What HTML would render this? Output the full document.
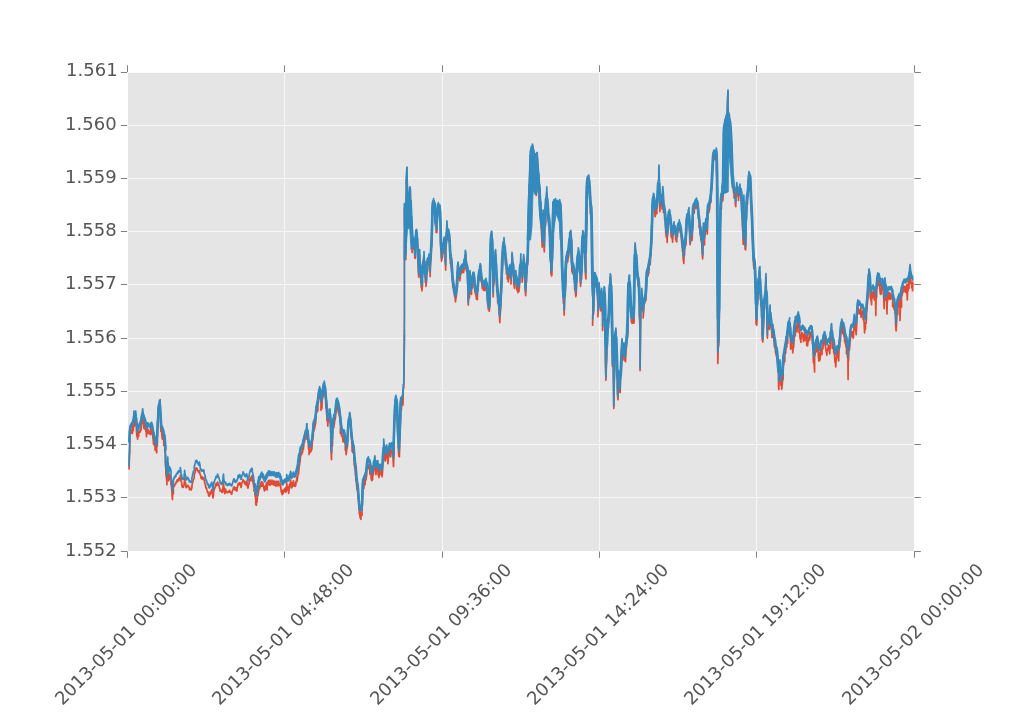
<!DOCTYPE html>
<html><head><meta charset="utf-8"><title>plot</title>
<style>html,body{margin:0;padding:0;background:#fff;overflow:hidden}body{width:1015px;height:715px;position:relative}</style></head>
<body>
<svg width="1015" height="715" viewBox="0 0 1015 715" style="position:absolute;left:0;top:0">
<rect x="0" y="0" width="1015" height="715" fill="#ffffff"/>
<rect x="128.0" y="72.8" width="786.0" height="478.2" fill="#e5e5e5"/>
<line x1="128.0" x2="914.0" y1="125.50" y2="125.50" stroke="#f7f7f7" stroke-width="1"/>
<line x1="128.0" x2="914.0" y1="178.50" y2="178.50" stroke="#f7f7f7" stroke-width="1"/>
<line x1="128.0" x2="914.0" y1="231.50" y2="231.50" stroke="#f7f7f7" stroke-width="1"/>
<line x1="128.0" x2="914.0" y1="284.50" y2="284.50" stroke="#f7f7f7" stroke-width="1"/>
<line x1="128.0" x2="914.0" y1="338.50" y2="338.50" stroke="#f7f7f7" stroke-width="1"/>
<line x1="128.0" x2="914.0" y1="391.50" y2="391.50" stroke="#f7f7f7" stroke-width="1"/>
<line x1="128.0" x2="914.0" y1="444.50" y2="444.50" stroke="#f7f7f7" stroke-width="1"/>
<line x1="128.0" x2="914.0" y1="497.50" y2="497.50" stroke="#f7f7f7" stroke-width="1"/>
<line x1="284.50" x2="284.50" y1="72.8" y2="551.0" stroke="#f7f7f7" stroke-width="1"/>
<line x1="442.50" x2="442.50" y1="72.8" y2="551.0" stroke="#f7f7f7" stroke-width="1"/>
<line x1="599.50" x2="599.50" y1="72.8" y2="551.0" stroke="#f7f7f7" stroke-width="1"/>
<line x1="756.50" x2="756.50" y1="72.8" y2="551.0" stroke="#f7f7f7" stroke-width="1"/>
<clipPath id="c"><rect x="128.0" y="72.8" width="786.0" height="478.2"/></clipPath>
<g clip-path="url(#c)" fill="none" stroke-linejoin="round" stroke-linecap="butt">
<path d="M129.1,469.4 L129.2,463.1 L129.8,451.8 L129.6,446.6 L130.1,432.7 L130.3,434.2 L130.8,433.2 L131.1,430.7 L131.2,430.4 L131.9,430.4 L132.5,424.7 L132.4,433.4 L133.3,424.9 L133.3,430.7 L133.6,422.9 L134.0,418.7 L134.0,415.8 L134.7,425.8 L134.8,423.7 L135.0,420.3 L135.7,414.8 L136.2,423.9 L136.3,421.6 L136.5,432.3 L136.7,432.7 L136.8,435.9 L137.5,437.7 L137.6,439.1 L138.1,432.4 L138.6,436.4 L138.9,432.1 L139.1,431.2 L139.7,430.9 L140.0,432.2 L140.6,429.5 L140.5,428.3 L141.0,428.2 L141.0,430.3 L141.9,421.1 L142.0,423.6 L142.5,414.7 L142.7,418.4 L143.0,418.2 L143.1,421.4 L143.5,420.1 L143.9,428.4 L144.2,419.5 L144.9,429.1 L144.9,422.2 L145.4,427.0 L145.8,431.2 L146.3,431.8 L146.3,433.5 L146.5,436.6 L147.1,428.4 L147.3,433.7 L147.3,427.7 L148.0,432.8 L148.5,430.2 L148.4,431.1 L149.3,433.1 L149.3,433.7 L149.7,431.6 L150.3,434.7 L150.7,428.1 L150.7,434.3 L151.5,428.6 L151.2,433.5 L151.9,428.1 L152.0,432.5 L152.5,433.8 L152.9,438.8 L153.0,435.3 L153.5,444.1 L154.0,437.6 L154.3,444.0 L154.8,446.7 L155.1,445.2 L155.0,449.8 L156.0,450.5 L156.1,450.8 L156.7,452.7 L156.7,442.7 L157.3,446.2 L157.5,437.4 L157.4,431.7 L158.1,419.5 L158.1,421.7 L158.3,409.8 L158.9,413.5 L158.9,410.3 L159.4,407.5 L160.1,407.0 L160.2,407.9 L160.1,409.8 L160.6,425.9 L160.8,428.3 L160.9,431.4 L161.6,431.6 L162.3,439.1 L162.3,430.3 L162.7,436.8 L162.7,435.4 L163.1,438.6 L163.6,437.1 L163.8,445.5 L164.8,440.5 L164.8,446.8 L164.8,450.6 L165.5,454.7 L165.4,460.6 L166.2,475.7" stroke="#e24a33" stroke-width="1.70"/>
<path d="M165.4,460.6 L166.2,475.7 L166.8,480.9 L166.9,484.8 L167.1,476.8 L167.5,472.3 L167.8,465.1 L167.9,469.0 L168.7,475.4 L168.7,480.8 L169.2,478.3 L169.2,479.6 L169.5,474.3 L170.0,476.9 L170.4,475.9 L171.1,479.6 L170.9,483.6 L171.5,487.1 L171.9,490.9 L172.1,495.6 L172.5,499.6 L172.5,495.3 L173.4,493.4 L173.3,488.3 L173.9,485.8 L174.5,486.1 L174.5,484.5 L174.6,485.5 L175.6,483.3 L175.9,483.8 L176.0,482.4 L176.2,482.0 L176.4,482.2 L177.2,480.0 L177.9,481.5 L177.8,479.5 L178.4,480.3 L178.8,479.4 L178.8,478.1 L179.4,479.9 L179.7,477.8 L180.2,479.5 L180.3,475.3 L180.9,478.3 L180.9,480.7 L181.6,482.4 L181.9,485.8 L182.3,487.1 L182.7,485.9 L183.2,487.4 L183.5,485.1 L183.7,486.1 L184.1,484.4 L184.5,480.4 L184.6,478.3 L185.0,481.2 L185.7,483.7 L185.8,486.9 L186.2,487.7 L186.2,485.5 L186.5,486.2 L187.3,485.5 L187.2,486.5 L187.9,485.3 L187.9,485.8 L188.3,486.9 L188.9,486.6 L189.3,488.0 L189.3,489.6 L189.8,487.9 L190.5,489.3 L190.6,489.3 L191.1,490.0 L191.3,489.6 L192.1,486.9 L191.7,486.8 L192.6,482.6 L192.7,481.0 L193.1,481.1 L193.3,479.2 L193.9,478.9 L194.3,477.3 L194.2,473.9 L194.5,474.2 L195.5,470.9 L195.5,469.6 L195.5,469.2 L196.1,467.9 L196.4,469.3 L196.9,468.1 L197.1,468.6 L197.3,470.1 L197.8,470.5 L198.3,471.4 L198.7,472.5 L198.6,472.2 L199.4,470.3 L200.0,473.6 L200.0,474.2 L200.3,475.2 L200.7,475.5 L201.1,478.4 L201.9,478.3 L202.1,477.1 L202.2,479.3 L202.4,477.1 L202.9,478.5 L203.8,478.0 L203.9,477.6 L204.1,480.2 L204.4,481.4 L205.4,484.9 L205.3,485.8 L205.5,485.4 L205.9,488.2 L206.4,487.4 L206.7,489.0 L206.8,489.7 L207.4,491.3 L207.4,492.3 L208.2,492.2 L208.6,495.8 L208.7,493.4 L208.9,494.6 L209.5,496.0 L209.5,493.4 L210.3,494.4 L210.3,491.9 L211.2,492.9 L211.4,490.5 L211.6,489.6 L212.1,492.4 L212.2,491.1 L212.7,495.8 L213.0,497.8 L213.5,495.0 L213.9,489.0 L214.0,490.1 L214.5,488.7 L214.5,488.9 L215.3,486.7 L215.8,486.1 L215.8,484.9 L216.2,483.3 L216.7,485.6 L216.7,483.6 L217.3,485.3 L217.6,482.0 L218.4,484.5 L218.6,484.8 L219.0,484.9 L219.6,488.6 L220.0,488.9 L220.0,490.9 L220.6,490.9 L220.5,489.6 L220.8,491.0 L221.4,490.8 L222.0,492.4 L222.1,491.4 L222.7,488.9 L222.9,491.9 L223.2,484.5 L223.5,481.9 L223.8,487.3 L223.9,486.7 L224.3,489.6 L224.9,493.7 L225.6,489.2 L225.5,491.8 L225.9,490.2 L226.0,492.0 L226.5,491.4 L227.0,492.8 L227.2,492.7 L227.6,492.2 L228.3,492.3 L228.8,491.0 L228.4,491.7 L229.1,492.0 L229.7,490.4 L229.6,492.1 L230.3,491.7 L230.9,493.0 L231.2,492.3 L231.4,494.2 L231.9,493.9 L232.0,492.3 L232.4,491.2 L232.9,489.8 L233.0,489.8 L233.5,487.7 L234.0,486.8 L234.7,487.6 L234.6,487.4 L234.9,489.6 L235.4,490.2 L236.1,489.4 L236.2,490.1 L236.3,487.6 L236.8,491.1 L237.5,487.5 L237.5,487.0 L238.2,483.4 L237.8,485.4 L238.8,484.8 L238.7,483.0 L239.3,483.4 L239.6,482.9 L240.1,482.9 L240.3,485.4 L240.9,485.3 L241.0,487.4 L241.5,485.9 L241.5,483.8 L241.8,483.3 L242.5,481.9 L242.8,480.9 L243.1,479.7 L243.4,480.2 L244.1,481.5 L244.0,480.8 L244.4,483.1 L245.0,483.7 L245.2,484.5 L245.7,484.4 L245.5,482.1 L246.4,485.1 L246.6,481.1 L247.1,482.9 L247.7,485.9 L247.4,486.7 L248.0,488.1 L248.2,487.3 L248.5,484.6 L249.2,483.6 L249.3,481.2 L249.5,480.3 L250.1,478.4 L250.4,478.3 L251.0,480.7 L251.0,477.2 L251.7,477.6 L251.8,476.2 L252.2,475.5 L252.3,479.9 L252.8,481.4 L253.6,484.7 L253.6,486.6 L254.2,487.8 L253.9,490.9 L255.0,491.0 L255.0,494.8" stroke="#e24a33" stroke-width="1.70"/>
<path d="M255.0,491.0 L255.0,494.8 L255.7,499.2 L255.9,498.2 L255.7,504.4 L256.4,505.2 L256.6,500.6 L257.0,502.0 L257.5,496.0 L257.8,495.6 L258.0,495.3 L258.8,488.8 L258.5,491.4 L259.2,488.4 L259.9,485.3 L259.7,488.6 L260.6,484.1 L260.8,486.4 L261.0,482.3 L261.3,484.0 L261.5,485.1 L261.8,481.5 L262.0,486.2 L262.7,482.7 L262.9,483.4 L263.8,488.3 L263.4,485.9 L264.1,489.2 L264.4,490.9 L264.9,486.4 L265.4,490.0 L265.8,485.8 L265.7,488.4 L266.2,486.7 L266.3,483.1 L267.2,490.0 L267.2,482.6 L267.4,485.5 L268.3,480.6 L268.3,481.4 L268.9,484.2 L268.6,480.5 L269.1,484.8 L270.0,480.0 L270.0,485.3 L270.4,482.9 L271.1,481.3 L271.3,484.2 L271.3,481.4 L272.1,484.3 L272.0,480.0 L272.5,484.0 L273.2,482.5 L273.8,481.0 L273.7,485.0 L274.5,481.7 L274.9,485.5 L275.0,481.3 L275.6,485.8 L276.0,483.7 L276.7,481.5 L276.5,485.9 L276.8,481.1 L277.8,485.9 L277.9,482.2 L278.4,481.7 L278.8,481.1 L278.8,485.3 L279.5,483.9 L280.2,483.8 L280.4,487.2 L280.2,484.8 L280.9,488.0 L281.2,491.9 L281.5,489.7 L282.2,494.7 L282.3,492.4 L282.4,493.2 L283.2,493.6 L283.2,490.5 L283.4,493.1 L284.3,489.4 L284.4,490.2 L285.0,491.2 L284.9,488.4 L285.7,492.1 L286.0,487.3 L286.3,491.6 L286.8,483.2 L287.2,488.5 L287.8,490.2 L287.9,486.9 L288.2,490.3 L288.6,486.8 L288.6,493.3 L289.3,488.3 L289.6,484.4 L289.9,486.7 L290.6,480.2 L290.7,481.7 L291.3,484.8 L291.4,482.8 L291.5,488.0 L292.1,486.9 L292.1,483.0 L292.5,486.0 L293.4,480.7 L293.5,482.4 L294.2,484.2 L294.2,482.9 L294.3,486.2 L294.9,485.2 L295.4,486.3 L295.8,485.1 L296.0,481.2 L296.3,481.6 L296.7,482.0 L296.7,477.6 L297.2,480.7 L297.7,476.6 L298.4,472.0 L298.6,473.8 L298.9,469.6 L299.1,466.0 L299.2,467.1 L299.8,462.6 L300.0,461.7 L300.5,454.8" stroke="#e24a33" stroke-width="1.70"/>
<path d="M300.0,461.7 L300.5,454.8 L300.4,453.2 L301.3,452.3 L301.5,454.1 L301.6,454.7 L302.3,451.0 L302.6,449.1 L302.5,452.8 L303.0,443.8 L303.4,449.3 L304.0,442.6 L304.4,442.2 L304.8,440.5 L304.7,439.5 L305.2,439.2 L305.4,437.5 L306.1,436.1 L306.7,439.0 L306.6,427.5 L307.0,432.1 L307.0,435.3 L307.8,438.7 L308.2,442.6 L308.6,449.1 L309.2,446.4 L309.0,454.6 L309.6,449.5 L309.5,450.5 L310.2,452.3 L310.3,450.4 L311.0,449.0 L310.9,451.7 L312.0,444.5 L311.8,449.8 L312.4,441.3 L312.7,440.0 L313.3,435.3 L313.3,432.4 L313.8,426.9 L313.7,431.4 L314.7,422.0 L314.4,429.3 L315.2,425.0 L315.7,422.3 L316.0,418.1 L316.0,414.7 L316.6,410.8 L316.7,413.0 L317.1,406.7 L317.8,411.1 L318.0,404.1 L318.5,401.8 L318.7,398.8 L319.1,397.0 L319.6,389.3 L319.5,398.4 L320.1,391.4 L320.8,397.7 L321.0,403.7 L321.0,410.2 L321.2,403.3 L322.0,408.6 L322.2,399.7 L322.7,397.7 L323.2,396.0 L323.3,392.9 L323.4,386.4 L324.0,393.4 L324.3,386.4 L324.5,390.9 L324.9,394.0 L325.4,397.4 L325.6,400.3 L325.9,408.2 L326.4,404.0 L326.6,414.4 L326.8,414.9 L327.0,420.5 L327.7,421.7 L327.8,426.2 L328.2,418.9 L328.9,421.3 L329.1,420.8 L329.2,417.9 L330.0,413.1 L330.4,423.4 L330.7,422.1 L330.8,434.9 L330.8,446.3 L331.5,459.7 L331.8,447.0 L332.5,445.5 L332.6,432.4 L332.6,427.3 L333.3,421.6 L334.0,427.7 L333.7,419.3 L334.1,425.3 L334.7,420.8 L335.4,418.2 L335.6,415.3 L335.9,413.8 L336.3,405.1 L336.6,406.9 L336.6,404.8 L337.4,405.9 L337.4,408.0 L337.8,410.1 L337.8,405.8 L338.4,412.9 L338.9,410.3 L339.2,415.4 L340.1,418.0 L340.1,422.4 L340.7,423.2 L340.3,433.3 L341.0,428.8 L341.3,433.3 L341.6,436.1 L342.1,436.0 L342.4,435.6 L343.1,442.0 L343.4,435.0 L343.1,439.8 L343.8,432.9 L344.4,437.8 L344.1,439.5 L344.9,443.2 L345.2,441.1 L345.3,450.1 L345.8,446.5 L346.1,454.7 L346.6,451.1 L346.8,449.1 L347.4,446.4 L347.6,446.1 L347.6,436.3 L347.8,436.0 L348.5,424.8 L349.0,425.5 L349.3,423.3 L349.4,420.2 L349.9,415.5 L350.5,425.7 L350.8,425.7 L350.8,432.4 L351.0,435.4 L351.9,441.7 L352.0,445.4 L352.2,451.8 L352.4,444.5 L352.9,452.8 L353.3,452.4 L353.9,452.6 L354.0,453.7 L354.2,465.1 L354.6,465.1 L354.6,467.5 L354.7,464.2 L355.5,475.6 L355.7,469.4 L355.8,479.0 L356.4,482.7 L357.0,489.6 L356.8,484.0 L357.8,493.7 L357.8,491.9 L357.9,496.0 L358.5,501.3 L359.0,509.6 L359.2,508.8 L359.3,513.5 L359.7,514.6 L360.2,518.0 L360.6,512.5 L360.8,519.4 L361.3,513.9 L362.1,515.3 L362.0,512.4 L361.9,514.0 L362.4,501.8 L362.4,494.4 L363.0,484.8 L363.8,487.7 L363.9,481.7 L363.9,488.5 L364.1,479.3 L364.8,484.9 L365.1,482.0" stroke="#e24a33" stroke-width="1.70"/>
<path d="M364.8,484.9 L365.1,482.0 L365.4,480.4 L366.0,479.8 L366.2,478.6 L366.7,469.6 L366.6,475.9 L367.2,463.1 L367.6,466.0 L368.3,466.6 L368.4,465.2 L368.6,465.5 L369.0,468.9 L369.5,464.7 L369.9,474.2 L370.3,466.4 L370.4,473.3 L370.9,474.9 L371.0,474.0 L371.1,478.5 L371.8,480.7 L372.4,475.3 L372.6,479.8 L372.8,471.7 L373.2,475.0 L373.6,473.0 L374.0,468.2 L374.0,468.8 L374.8,464.4 L374.9,461.5 L375.3,468.2 L375.3,465.9 L376.0,474.7 L376.1,472.2 L377.1,469.1 L376.7,467.2 L377.4,469.4 L377.8,465.0 L378.1,475.0 L378.7,468.4 L378.8,477.6 L379.1,476.1 L379.3,473.9 L379.8,473.2 L379.9,471.6 L380.4,472.5 L380.9,472.3 L381.1,468.1 L381.2,475.1 L381.9,470.1 L382.1,476.8 L382.6,470.6 L382.7,462.8 L383.7,456.3 L383.7,445.9 L383.8,444.3 L384.3,455.7 L384.5,452.4 L385.1,461.2 L385.7,456.8 L385.8,454.5 L385.9,455.0 L386.5,452.9 L386.7,450.7 L387.5,460.9 L387.5,453.8 L387.9,463.8 L388.3,458.9 L388.9,454.4 L389.2,453.4 L389.3,452.5 L389.6,447.4 L389.9,455.6 L390.0,449.2 L390.7,456.8 L390.9,454.1 L391.2,450.3 L391.7,450.0 L392.1,449.9 L392.6,449.9 L393.1,460.5 L392.8,454.5 L393.5,466.7 L394.2,449.3 L393.9,435.3 L394.5,420.0 L395.0,420.3 L394.8,405.3 L395.6,403.0 L395.9,403.0 L395.9,403.8 L395.9,400.8 L396.7,407.0 L396.7,406.9 L397.1,412.0 L397.3,416.8 L397.6,431.3 L398.2,439.2 L398.1,448.1 L398.2,445.6 L398.8,456.3 L399.2,456.2 L399.4,456.8 L399.8,439.4 L399.9,436.4 L400.5,421.4 L400.6,409.0 L400.7,401.0 L401.3,410.3 L401.6,404.0 L401.9,404.3 L402.3,400.8 L402.7,405.3 L403.1,393.9" stroke="#e24a33" stroke-width="1.70"/>
<path d="M402.7,405.3 L403.1,393.9 L403.2,390.0 L403.8,387.5 L404.1,363.5 L404.4,333.8" stroke="#e24a33" stroke-width="1.70"/>
<path d="M404.4,333.8 L404.5,208.6" stroke="#e24a33" stroke-width="1.50"/>
<path d="M404.5,208.6 L404.8,228.8 L405.1,256.8 L405.5,256.9 L405.8,259.6 L406.2,220.7 L406.5,192.3 L406.3,183.3 L406.9,172.9 L407.2,185.5 L407.5,207.9 L408.0,205.3 L408.2,203.7 L408.4,209.9 L408.9,226.1 L409.6,210.3 L409.6,193.7 L410.0,189.5 L410.3,194.7 L410.3,207.6 L411.0,220.7 L411.5,219.0 L411.7,226.8 L411.8,240.6 L412.1,252.6 L412.4,243.7 L413.1,248.9 L413.1,241.8 L413.6,243.5 L413.6,246.0 L414.1,247.3 L414.3,246.9 L414.8,257.9 L415.2,258.3 L415.3,245.7 L415.9,232.2 L416.2,237.2 L416.6,232.7 L417.2,239.0 L417.3,245.9 L417.9,259.3 L418.0,263.1 L418.3,270.5 L418.7,277.2 L419.0,271.9 L419.5,258.4 L419.7,254.6 L419.9,263.1 L420.2,269.5 L420.8,279.7 L421.3,287.4 L421.2,282.0 L421.9,291.0 L422.5,285.3 L422.2,276.4 L422.9,268.9 L422.9,269.2 L424.0,256.9 L424.0,256.3 L424.4,263.1 L425.0,267.4 L425.0,275.1 L425.4,282.5 L425.8,278.1 L426.0,286.4 L426.5,281.1 L426.8,274.0 L427.1,268.8 L427.6,271.1 L427.5,261.0 L428.1,263.1 L428.6,262.1 L428.9,260.1 L429.2,259.4 L429.8,269.9 L429.9,266.9 L430.2,276.6 L430.3,268.8 L430.9,259.7 L431.1,247.5 L431.7,247.0 L432.0,236.1 L432.0,220.4 L432.7,204.7 L432.6,208.7 L433.6,201.4 L433.6,204.8 L434.4,207.3 L434.0,205.8 L434.8,206.9 L435.2,221.9 L435.5,226.0 L436.2,226.1 L436.1,232.5 L436.6,231.9 L436.9,232.5 L436.9,225.5 L437.6,210.0 L437.5,209.2 L438.0,211.2 L438.3,207.5 L439.0,208.5 L439.0,214.5 L439.9,208.5 L440.1,213.5 L440.6,225.8 L440.6,240.5 L440.6,244.7 L441.4,258.9 L441.5,261.1 L442.0,258.3 L442.2,257.7 L442.5,256.9 L442.8,249.0 L442.9,254.2 L443.4,246.2 L443.9,243.2 L443.6,244.9 L444.3,242.6 L444.9,241.1 L445.0,251.6 L445.2,260.6 L445.7,270.1 L445.8,250.2 L446.4,241.4 L446.6,233.6 L446.9,226.1 L447.2,229.5 L447.6,239.6 L448.0,238.1 L448.1,233.6 L448.8,232.6 L449.0,241.6 L449.5,240.5 L449.9,248.2 L450.2,257.8 L450.4,263.8 L451.2,257.8 L451.3,268.0 L451.6,263.7 L451.6,271.1 L452.3,278.7 L452.8,287.3 L452.8,280.4 L453.7,291.5 L453.7,287.8 L454.1,290.2 L454.3,294.9 L454.6,296.1 L455.1,297.8 L455.5,302.0 L456.0,292.7 L455.7,299.5 L456.5,295.0 L456.7,289.8 L457.4,287.6 L457.4,282.1 L457.4,269.3 L458.1,268.0 L458.8,271.6 L458.9,274.5 L459.3,278.9 L459.9,280.8 L460.1,272.6 L460.2,278.5 L460.6,270.4 L461.0,270.1 L461.1,273.8 L462.0,269.9 L462.1,272.0 L462.4,270.0 L462.7,268.2 L462.9,272.6 L463.7,265.4 L463.5,272.5 L464.1,269.0 L464.7,263.1 L465.0,259.5 L465.3,254.8 L465.9,254.9 L465.9,268.8 L466.2,269.6 L466.3,270.0 L466.7,271.3 L467.2,270.2 L467.6,269.8 L467.9,292.3 L468.3,305.1 L468.4,299.4 L469.5,297.4 L469.5,292.0 L469.4,279.4 L470.0,275.1 L470.6,281.8 L470.8,286.2 L471.1,292.7 L471.5,294.4 L471.5,283.2 L472.5,287.8 L472.5,279.4 L473.0,276.7 L473.5,278.2 L473.7,277.6 L474.3,277.4 L474.6,289.1 L474.6,289.7 L474.8,289.7 L475.1,293.1 L475.4,293.1 L476.0,295.4 L476.4,299.2 L476.7,292.5 L477.4,299.7 L477.4,293.6 L477.9,290.0 L477.8,288.1 L478.3,281.5 L478.8,276.5 L479.3,280.1 L479.7,269.7 L479.8,273.8 L480.2,265.3 L480.9,271.4 L480.7,277.6 L481.2,281.6 L481.4,279.7 L482.3,288.6 L482.3,285.8 L483.0,286.4 L483.3,289.4 L483.5,287.1 L483.4,290.2 L484.3,287.2 L484.4,287.2 L484.9,290.6 L485.2,283.0 L485.2,288.2 L485.8,281.8 L486.0,284.3 L486.6,289.3 L487.0,291.4 L487.1,292.0 L487.7,304.7 L487.9,305.1 L488.5,307.7 L488.3,309.7 L488.8,309.8 L489.3,311.2 L489.9,305.3 L489.6,287.9 L490.2,280.6 L490.1,262.1 L490.7,241.2 L491.4,233.4 L491.4,240.9 L491.8,234.4 L492.5,248.3 L492.5,261.0 L493.0,282.8 L493.2,296.8 L493.3,287.5 L494.1,282.5 L494.2,273.6 L494.3,264.2 L494.7,266.7 L495.0,255.9 L495.6,254.6 L496.2,264.9 L496.0,271.7 L496.6,282.4 L496.8,291.4 L497.0,287.4 L497.7,298.1 L497.7,303.0 L498.6,302.2 L498.8,307.4 L499.2,315.1 L499.3,313.0 L499.8,322.6 L500.1,315.7 L500.9,305.8 L500.5,301.4 L501.2,294.0 L501.9,280.7 L502.1,277.3 L502.7,261.1 L502.6,256.7 L503.2,252.1 L503.0,248.0 L503.9,245.6 L504.0,242.2 L504.1,243.6 L505.0,254.3 L505.0,255.7 L505.4,257.8 L505.4,264.6 L506.2,264.3 L506.4,268.4 L506.4,273.7 L507.2,270.7 L507.3,279.0 L507.9,274.2 L508.2,281.8 L508.8,277.8 L508.7,273.2 L509.5,271.6 L509.6,270.7 L510.1,269.9 L510.6,278.1 L510.9,276.1 L511.0,284.0 L511.3,276.3 L512.0,265.0 L512.0,254.9 L512.7,265.3 L512.5,261.8 L513.1,270.9 L513.4,277.0 L513.7,277.2 L513.8,283.6 L514.5,288.3 L514.8,280.1 L514.9,283.8 L515.8,274.9 L515.9,275.7 L516.1,280.8 L516.5,280.3 L516.6,288.6 L517.3,290.6 L518.0,286.4 L518.0,292.7 L518.4,286.1 L519.1,291.5 L518.8,284.7 L519.4,288.3 L519.6,281.4 L519.7,270.7 L520.6,265.0 L520.8,259.6 L520.8,261.3 L521.6,273.6 L522.0,272.6 L522.2,282.2 L522.9,276.5 L522.5,269.1 L523.2,266.1 L523.6,260.3 L523.8,258.2 L524.2,269.8 L524.6,269.4 L525.0,277.6 L525.0,287.8 L525.7,295.6 L526.2,283.1 L526.6,281.5 L526.7,268.3 L527.0,264.7 L527.7,264.7 L527.8,261.8 L528.1,240.7 L528.5,228.5 L529.1,211.1 L529.2,189.7 L529.3,192.1 L529.9,202.0 L530.2,177.9 L530.6,156.5 L531.2,151.5 L531.5,157.7 L531.3,149.3 L532.0,153.2 L532.7,152.0 L532.4,148.7 L533.0,148.4 L533.4,158.6 L533.7,160.0 L534.0,163.6 L534.2,170.1 L534.5,173.5 L534.5,175.2 L535.5,189.9 L535.5,192.2 L536.2,192.9 L536.2,195.5 L536.8,186.7 L537.2,165.4 L537.2,157.9 L537.6,164.6 L537.9,174.0 L538.4,176.6 L538.6,190.8 L539.0,190.2 L539.4,189.0 L539.7,192.0 L540.1,208.4" stroke="#e24a33" stroke-width="1.70"/>
<path d="M539.7,192.0 L540.1,208.4 L540.4,216.0 L541.1,218.8 L541.0,226.7 L541.5,230.0 L541.6,233.1 L542.2,247.2 L542.9,237.7 L542.7,223.5 L543.2,213.7 L543.6,229.5 L543.6,234.1 L544.3,251.9 L544.5,243.6 L544.8,230.4 L545.3,221.7 L545.3,215.7 L546.0,201.8 L546.5,198.5 L546.6,197.1 L546.8,193.2 L546.9,194.0 L547.4,208.1 L547.7,214.7 L548.1,221.9 L548.5,215.5 L548.6,225.7 L549.1,219.6 L549.1,226.1 L549.5,233.2 L549.9,237.7 L549.8,246.5 L550.8,265.5 L550.9,273.8 L551.3,272.1 L551.4,275.9 L551.9,275.3 L552.0,257.3 L552.1,257.4 L552.7,240.6 L553.3,222.6 L553.4,204.4 L553.4,210.4 L554.0,203.8 L554.4,208.9 L554.4,209.0 L555.5,204.4 L555.5,203.7 L555.5,209.6 L556.0,204.2 L556.5,210.1 L556.9,209.7 L557.4,206.7 L557.5,205.6 L558.0,211.6 L558.4,204.1 L558.6,210.8 L559.2,210.2 L559.7,205.8 L559.7,203.2 L560.3,211.8 L560.6,208.3 L560.7,215.8 L561.0,229.8 L561.4,243.7 L561.8,250.6 L562.1,270.7 L562.6,279.0 L562.8,282.8 L563.1,292.1 L563.4,303.3 L564.0,304.1 L564.2,315.2 L564.4,306.9 L564.7,297.4 L565.2,289.8 L565.7,282.9 L565.9,267.0 L566.2,262.3 L566.3,263.8 L567.0,261.0 L567.0,254.7 L567.7,261.8 L568.4,254.7 L568.4,257.8 L569.0,253.3 L569.4,246.6 L569.4,245.9 L569.8,243.3 L569.7,234.3 L570.6,240.9 L570.9,233.3 L571.6,247.2 L571.6,262.2 L571.9,271.8 L572.3,264.6 L572.6,273.7 L573.1,272.8 L573.2,268.7 L573.7,268.7 L573.9,278.6 L574.5,274.5 L574.7,284.9 L574.7,288.9 L575.3,290.7 L575.8,296.6 L576.2,294.7 L576.8,278.6 L576.8,278.8 L577.1,270.7 L577.9,261.7 L577.9,254.7 L578.2,258.9 L578.3,251.7 L578.9,256.6 L579.6,263.9 L579.6,271.0 L579.9,272.0 L580.5,284.9 L580.5,286.3 L581.2,279.0 L581.6,279.1 L581.7,270.6 L581.7,255.1 L582.3,252.4 L582.6,236.2 L582.8,235.4 L583.5,238.8 L583.8,239.0 L584.0,240.2 L584.6,256.8 L584.9,259.8 L585.1,264.8 L585.4,273.4 L585.9,279.0 L585.7,252.0 L586.3,236.0 L586.7,213.9 L586.6,193.3 L587.0,186.4 L587.3,190.8 L587.4,178.6 L588.0,182.1 L588.3,181.8 L588.7,180.1 L589.0,179.9 L589.0,192.6 L589.6,192.9 L590.2,200.4 L590.3,210.0 L590.4,213.5 L591.0,207.5 L591.3,211.3 L591.7,219.1 L591.9,221.9 L591.8,242.0 L592.4,272.0 L592.9,292.4 L592.9,314.5 L592.9,313.1 L592.6,325.2 L592.6,322.8 L592.9,316.0 L593.6,313.4 L594.0,300.6 L594.3,277.7 L594.6,278.6 L594.6,281.1 L595.4,279.2 L595.6,280.0 L596.0,287.2 L596.1,278.3 L597.0,287.9 L597.0,283.0 L597.2,291.7 L598.0,305.9 L598.0,316.8 L598.5,303.0 L598.8,301.3 L599.1,285.1 L599.3,292.1 L600.0,301.6 L600.0,304.2 L600.5,310.8 L600.9,310.6 L601.1,293.7 L601.7,293.1 L601.9,306.0 L602.7,317.6 L602.6,330.5 L603.0,322.2 L603.3,304.8 L603.6,297.3 L603.9,296.6 L604.1,292.5 L604.7,292.0 L605.0,320.9 L605.4,340.2 L605.4,360.3 L605.9,380.3 L606.0,376.7 L606.6,360.3 L606.8,355.2 L606.9,345.9 L607.2,333.9 L607.8,325.3 L608.5,327.6 L608.5,318.6 L608.9,322.0 L609.5,310.5 L609.5,295.3 L609.9,283.5 L610.1,286.6 L610.2,277.0 L610.8,281.0 L611.1,293.6 L611.4,300.9 L611.7,311.8 L612.3,343.8 L612.4,366.4 L613.1,354.0 L613.1,339.1 L613.4,379.1 L613.8,408.5 L614.2,385.6 L614.8,365.2 L614.8,342.2 L615.2,334.3 L615.4,339.6 L615.9,330.7 L616.2,342.6 L616.6,357.7 L616.9,369.2 L617.2,375.0 L617.4,393.6 L618.0,399.8 L618.2,389.5 L618.4,384.7 L619.0,377.1 L619.3,377.7 L619.6,391.7 L620.1,392.6 L620.4,384.6 L620.6,377.2 L621.3,368.7 L621.4,351.1 L622.0,343.4 L622.6,350.7 L622.9,351.6 L622.9,357.7 L623.0,360.1 L623.3,348.1 L624.0,348.0 L624.5,353.3 L624.6,354.6 L625.0,360.8 L625.5,361.7 L626.0,349.3 L626.0,349.7 L626.5,346.6 L626.4,342.0 L627.1,339.6 L627.7,335.1 L627.8,319.0 L627.8,302.2 L628.5,285.8 L628.6,287.8 L629.1,278.0 L629.6,281.6 L629.6,289.4 L630.2,298.9 L630.7,302.0 L631.2,318.5 L631.3,321.8 L631.8,319.9 L632.0,323.4 L632.3,320.1 L632.7,319.3 L633.3,323.1 L633.3,316.4 L634.1,322.8 L634.1,317.1 L634.0,294.0 L634.5,269.0 L634.5,262.2 L635.1,246.3 L635.1,248.0 L635.9,254.2 L635.9,257.4 L636.4,258.7 L636.8,271.4 L636.9,273.0 L637.1,276.4 L638.0,281.6 L638.0,285.9 L638.7,281.7 L638.9,289.8 L639.0,284.7 L639.4,298.6 L639.3,315.0 L640.0,327.2 L640.1,370.5 L640.4,341.3 L640.8,312.1 L641.5,309.3 L641.7,296.0 L641.8,294.1 L642.3,299.1 L642.3,301.8 L643.2,311.7 L643.2,318.0 L643.6,309.1 L643.6,313.2 L644.2,301.3 L644.6,303.2 L644.8,302.1 L645.5,299.3 L645.5,300.8 L646.0,300.4 L646.4,282.6 L646.7,278.1 L647.4,276.4 L647.3,274.7 L647.5,276.3 L648.1,276.0 L648.3,267.9 L648.8,273.4 L649.1,267.1 L649.2,264.5 L649.9,265.0 L650.2,264.3" stroke="#e24a33" stroke-width="1.70"/>
<path d="M649.9,265.0 L650.2,264.3 L650.8,253.9 L650.6,257.6 L651.1,243.1 L651.6,243.9 L651.6,230.7 L652.3,220.6 L652.4,207.3 L653.0,202.9 L653.3,201.6 L653.5,199.2 L654.0,198.9 L654.3,207.3 L654.4,205.8 L655.1,216.7 L655.9,213.6 L655.5,211.9 L656.2,208.1 L656.9,213.4 L656.6,204.3 L657.2,208.1 L657.5,200.6 L657.9,192.4 L658.2,185.1 L658.8,184.1 L658.8,171.9 L659.0,170.9 L659.4,187.3 L659.6,202.2 L659.6,203.9 L660.0,211.6 L660.0,207.8 L661.0,202.3 L661.1,198.1 L661.2,206.2 L662.0,199.9 L662.1,208.9 L662.2,200.1 L662.8,192.4 L663.4,197.6 L663.5,212.4 L663.7,212.2 L664.4,211.0 L664.5,212.9 L664.7,220.1 L665.1,216.3 L665.6,226.6 L665.7,231.9 L666.3,237.1 L666.7,233.5 L667.2,242.5 L667.3,237.2 L668.0,231.6 L668.0,229.4 L668.4,221.8 L668.4,214.8 L669.1,219.2 L669.4,213.6 L669.9,217.4 L670.1,220.9 L670.5,224.7 L670.5,223.4 L671.1,236.6 L671.5,236.1 L672.0,238.6 L672.5,239.4 L672.6,242.2 L673.1,231.1 L673.1,235.3 L673.6,228.3 L674.0,228.5 L674.2,231.1 L674.7,231.9 L675.1,229.8 L675.7,239.5 L675.7,236.7 L675.9,239.4 L676.5,241.7 L676.8,241.9 L676.9,234.5 L677.4,236.4 L677.9,229.5 L678.6,228.0 L678.9,229.8 L679.3,225.6 L679.3,225.1 L679.9,230.7 L680.1,226.0 L680.3,232.1 L680.4,232.9 L681.3,233.8 L681.3,236.7 L681.8,244.0 L681.9,240.1 L682.4,247.9 L682.4,251.3 L683.2,252.5 L683.1,258.2 L683.8,263.4 L684.1,252.6 L684.5,255.3 L684.9,244.2 L685.3,244.0 L685.2,246.1 L685.9,245.2 L686.5,230.5 L686.6,224.1 L686.6,223.9 L687.0,219.4 L687.6,220.6 L687.9,222.8 L688.3,213.9 L688.4,217.6 L689.0,211.9 L688.9,217.7 L689.4,225.9 L689.8,240.5 L690.1,244.7 L690.3,243.5 L690.7,239.2 L691.1,236.8 L691.5,232.2 L692.0,240.5 L692.2,237.2 L692.9,223.9 L692.9,212.1 L692.9,215.2 L693.5,205.7 L694.3,213.1 L694.3,207.0 L694.8,206.8 L695.1,208.5 L695.3,207.3 L695.4,202.1 L695.6,208.4 L696.4,202.7 L696.5,205.3 L697.3,207.8 L697.5,208.9 L698.1,208.8 L698.4,218.8 L698.5,218.8 L699.2,220.3 L699.0,226.5 L699.6,228.4 L699.8,225.9 L700.4,235.2" stroke="#e24a33" stroke-width="1.70"/>
<path d="M699.8,225.9 L700.4,235.2 L700.2,229.1 L700.9,239.2 L701.4,242.2 L701.8,242.9 L702.0,248.0 L702.4,256.5 L702.7,258.8 L703.1,242.6 L703.4,226.8 L703.4,236.6 L704.3,232.5 L704.5,244.9 L704.6,237.6 L705.4,230.8 L705.5,225.5 L705.5,228.9 L705.8,222.3 L706.4,225.6 L706.5,228.8 L706.8,229.1 L707.3,234.2 L707.5,225.5 L707.8,208.0 L708.5,208.8 L708.7,210.3 L709.0,212.3 L709.7,204.6 L709.6,209.8 L710.1,202.0 L710.4,200.7 L711.0,202.2 L711.1,201.1 L711.2,191.0 L711.8,189.2 L712.2,183.9 L712.3,174.2 L712.6,169.8 L713.2,167.7 L713.2,157.6 L713.7,156.8 L713.6,154.0 L713.6,160.8 L714.0,153.0 L714.6,159.2 L715.0,158.0 L714.9,155.8 L715.5,155.8 L715.9,159.6 L716.2,151.1 L716.7,156.0 L716.6,173.9 L717.4,193.5 L717.4,269.2 L717.8,363.5 L718.1,353.1 L718.1,348.3 L718.8,345.2 L719.3,318.1 L719.3,279.7 L719.9,251.7 L720.0,234.3 L720.4,214.2 L720.7,205.7 L721.4,209.0 L721.3,198.6 L721.7,198.3 L722.2,199.0 L722.3,198.1 L722.7,194.0 L722.8,200.9 L723.2,195.8 L723.7,164.6 L723.7,132.4 L724.3,136.3 L724.2,127.0 L724.6,132.8 L725.1,129.9 L725.3,124.2 L725.5,121.8 L725.8,127.3 L725.8,118.8 L726.3,126.5 L726.8,118.4 L727.2,123.6 L727.2,114.3 L727.6,103.4 L728.0,92.0 L727.9,111.9 L728.6,119.0 L728.8,119.3 L729.3,124.8 L729.5,125.2 L729.5,122.2 L729.9,130.3 L730.4,128.9 L730.9,135.7 L731.1,144.1 L731.7,149.6 L731.6,146.6 L732.2,162.2 L732.0,176.8 L732.1,183.0 L732.7,177.5 L733.1,183.4 L733.3,190.6 L733.7,193.0 L734.0,188.8 L734.1,198.0 L734.8,191.6 L735.5,197.3 L735.3,204.1 L735.8,206.7 L735.8,196.3 L736.5,196.5 L736.7,185.6 L736.9,187.4 L737.4,191.7 L737.6,193.1 L738.1,190.0 L738.5,200.4 L738.6,197.8 L739.1,195.0 L739.6,194.6 L739.7,190.8 L740.0,186.5 L740.2,195.0 L740.9,192.1 L741.5,197.3 L741.9,207.0 L741.8,212.3 L742.1,216.1 L742.5,226.6 L743.0,234.8 L743.2,244.5 L743.7,217.2 L743.9,201.4 L743.9,212.8 L744.2,223.0 L744.9,234.9 L745.1,249.0 L745.6,249.9 L746.0,234.8 L746.1,222.1 L746.5,208.1 L747.1,201.2 L747.5,204.6 L747.4,195.9 L747.9,196.3 L748.1,196.3 L748.3,191.4 L748.8,177.6 L748.9,177.4 L749.5,176.4 L750.1,182.2 L750.2,177.9 L750.8,192.4 L750.9,206.0 L751.3,211.4 L751.6,209.0 L752.0,221.8 L752.3,234.3 L752.8,244.4 L753.0,247.4 L753.4,255.5 L753.5,264.0 L753.9,268.3 L754.0,263.3 L754.5,263.8 L754.8,267.9 L754.9,268.5 L755.2,273.6 L755.6,292.1 L755.8,308.1 L756.1,324.3 L756.2,317.9 L756.8,325.3 L757.1,312.5 L757.5,301.8 L758.0,291.3 L758.5,294.0 L758.3,285.6 L758.9,282.2 L759.0,280.3 L759.0,280.4 L759.3,271.1 L759.9,272.8 L760.2,284.7 L760.4,299.3 L761.1,295.0 L760.8,305.8 L761.4,300.8 L762.0,315.3 L762.1,326.8 L762.2,339.6 L762.8,342.0 L763.4,329.8 L763.9,318.3 L763.8,305.1 L764.2,301.3 L764.6,308.7 L764.6,305.9 L764.9,300.3 L765.3,296.2 L765.4,291.6 L766.0,277.9 L766.0,287.2 L766.7,299.5 L767.0,324.6 L767.4,338.1 L767.4,329.9 L768.1,321.0 L768.4,327.8 L769.2,321.0 L769.1,329.5 L769.2,324.5 L769.6,314.2 L770.1,308.1 L770.2,318.6 L770.9,315.3 L770.9,324.7 L771.1,329.0 L771.4,328.6 L771.9,333.8 L772.0,337.7 L773.0,327.2 L773.0,332.5 L773.6,335.7 L773.5,336.0 L774.0,341.0 L774.4,346.7 L774.7,340.6 L774.8,344.4 L775.5,351.9 L775.8,353.9 L776.2,350.4 L776.3,356.1 L776.8,350.4 L777.1,356.8 L777.9,364.8 L777.9,371.3 L778.6,373.7 L778.6,386.9 L778.8,389.5 L779.0,377.8 L779.6,374.0 L779.4,373.7 L780.0,363.7 L780.1,369.8 L780.7,372.3 L780.7,384.9 L781.5,379.0 L781.7,389.2 L781.8,389.0 L782.4,382.6 L782.5,381.0 L783.2,379.2 L783.0,365.7 L783.5,364.8 L784.0,361.4 L784.2,360.0 L784.5,356.2 L784.8,361.7 L784.8,351.6 L785.6,353.4 L785.8,350.9 L786.0,347.3 L786.7,342.7 L786.8,347.2 L787.1,338.5 L787.7,343.2 L787.7,337.8 L788.3,330.4 L788.7,326.9 L788.8,332.5 L789.6,324.8 L789.5,329.0 L789.6,332.0 L790.5,338.1 L790.5,342.3 L790.6,349.1 L791.0,341.2 L791.5,346.3 L791.5,346.4 L792.1,348.0 L792.6,349.7 L792.8,352.9 L793.4,342.1 L793.6,347.4 L794.0,341.8 L794.5,335.7 L794.7,329.3 L795.3,335.8 L795.3,323.4 L795.7,325.5 L796.0,326.1 L796.3,326.4 L796.8,329.1 L797.0,331.9 L797.8,318.0 L797.8,321.9 L798.2,319.7 L798.3,322.3 L798.9,322.8 L799.1,333.0 L799.3,325.1 L799.9,334.5 L800.5,339.5" stroke="#e24a33" stroke-width="1.70"/>
<path d="M799.9,334.5 L800.5,339.5 L800.9,342.5 L801.0,334.9 L801.5,338.6 L801.8,332.7 L802.1,336.1 L802.3,332.8 L802.4,334.3 L803.4,336.1 L803.5,341.6 L803.8,334.6 L803.9,340.4 L804.7,331.5 L805.0,340.3 L805.2,334.7 L805.6,339.4 L806.0,339.0 L806.3,341.3 L806.6,337.7 L806.7,345.3 L807.1,335.1 L807.6,345.9 L808.0,340.2 L808.3,341.9 L808.5,337.7 L809.4,338.6 L809.4,331.6 L809.7,340.0 L810.3,332.0 L810.2,337.1 L810.8,332.5 L811.1,337.0 L811.7,335.1 L812.1,336.9 L812.2,336.7 L812.4,344.3 L813.1,341.9 L813.2,355.4 L813.2,356.1 L813.4,362.7 L814.0,361.5 L814.6,372.0 L814.6,354.2 L815.0,355.1 L815.3,352.9 L815.9,351.8 L816.1,343.9 L816.4,351.7 L817.0,343.9 L817.3,348.6 L817.5,339.5 L817.8,347.8 L818.0,349.6 L818.5,358.1 L818.7,352.7 L818.9,361.2 L819.2,354.0 L819.9,360.2 L820.4,355.8 L820.4,350.4 L820.9,346.5 L821.5,354.3 L821.7,349.0 L822.0,354.6 L822.1,348.9 L822.9,349.0 L822.9,345.6 L823.4,346.1 L823.7,339.6 L824.2,343.7 L824.3,337.3 L824.8,343.3 L825.4,341.4 L825.4,345.0 L825.9,349.6 L826.6,353.5 L826.9,352.6 L826.9,355.3 L827.1,349.9 L827.4,350.4 L828.1,347.5 L828.3,349.0 L828.6,345.2 L829.3,351.6 L828.9,345.3 L829.7,353.9 L830.0,346.8 L830.6,348.4 L830.6,337.4 L830.9,339.3 L831.2,329.5 L831.6,334.7 L831.9,334.6 L832.3,339.6 L832.5,343.9 L832.7,348.5 L833.3,343.2 L833.7,352.1 L833.9,344.6 L833.9,353.0 L834.3,352.5 L835.0,362.4 L835.0,357.2 L835.8,367.0 L836.0,361.9 L836.0,361.5 L836.8,356.6 L836.7,356.8 L837.4,351.7 L837.6,357.3 L838.5,349.6 L838.7,360.9 L838.8,355.1 L839.0,352.2 L839.1,349.5 L839.9,346.0 L840.0,338.0 L840.4,341.4 L840.9,328.8 L841.5,332.7 L841.5,326.5 L841.8,327.8 L841.8,322.9 L842.9,333.9 L843.0,328.7 L843.6,330.8 L843.5,331.2 L844.1,336.8 L844.4,333.5 L844.7,342.0 L845.1,339.3 L845.4,344.2 L845.9,341.9 L846.0,347.1 L846.7,342.5 L846.4,353.6 L847.2,348.4 L847.5,357.3 L847.9,358.4 L848.1,379.5 L848.2,355.0 L848.5,361.0 L849.0,348.1 L849.5,350.1 L849.6,344.0 L849.9,346.7 L850.2,337.1 L850.2,341.3 L850.9,331.6 L851.4,335.5 L852.0,334.0 L852.0,336.3 L852.5,331.5 L853.1,338.3 L853.3,337.9 L853.4,337.9 L853.9,329.6 L854.1,325.8 L854.4,319.5 L855.2,329.2 L855.3,321.7 L855.9,327.3 L855.6,328.2 L856.2,334.6 L856.8,323.2 L856.8,323.7 L857.2,313.7 L857.4,311.8 L857.9,304.9 L858.4,312.6 L858.3,308.6 L859.0,313.9 L859.0,309.7 L859.5,310.9 L860.0,310.1 L860.5,314.1 L860.8,307.9 L861.1,317.5 L861.8,312.1 L862.1,314.2 L862.4,312.7 L862.5,313.7 L862.8,310.6 L863.2,319.6 L863.7,312.8 L863.8,319.8 L864.0,320.9 L864.6,333.0 L865.1,322.8 L865.4,329.4 L865.6,322.5 L866.2,323.2 L866.5,316.7 L866.5,315.1 L867.1,305.7 L866.9,310.3 L867.4,303.4 L868.0,297.3 L868.1,285.7 L868.8,286.1 L868.8,272.8 L869.2,280.0 L869.6,279.5 L869.8,281.0 L869.8,282.1 L870.2,296.7 L870.7,298.9 L871.3,301.2 L871.6,304.8 L871.6,297.1 L872.0,291.8 L872.2,298.2 L872.6,292.8 L873.1,295.5 L873.2,292.3 L873.7,297.1 L873.9,289.8 L874.2,299.9 L874.9,293.6 L875.0,299.0 L875.6,298.6 L875.8,315.5 L876.2,294.2 L876.6,297.7 L876.8,286.8 L876.7,288.1 L877.0,285.4 L877.6,285.5 L877.7,276.5 L878.2,285.5 L878.6,280.7 L879.1,282.5 L879.0,284.0 L879.6,286.7 L879.8,289.4 L880.5,294.4 L880.4,291.3 L880.5,290.9 L881.4,294.0 L881.4,289.6 L881.8,282.6 L881.8,289.7 L882.4,283.6 L882.5,288.1 L883.2,288.2 L883.5,292.5 L883.6,296.1 L884.2,308.7 L884.3,294.5 L884.9,288.8 L885.0,282.5 L885.6,300.2 L885.9,289.1 L885.9,297.4 L886.6,299.6 L887.0,314.0 L887.4,296.9 L887.5,301.7 L888.0,292.5 L888.1,295.4 L888.4,295.5 L889.1,299.0 L889.5,292.7 L890.1,298.2 L890.2,293.6 L890.5,299.4 L890.9,294.7 L891.4,295.7 L891.4,296.6 L891.9,298.2 L892.7,294.3 L892.6,306.6 L893.0,303.6 L893.5,306.4 L893.6,304.0 L894.1,309.4 L894.5,303.7 L894.4,309.8 L895.1,309.6 L895.0,313.4 L895.4,311.8 L895.6,325.0 L896.1,331.0 L896.6,323.4 L896.8,313.2 L897.0,316.0 L897.2,306.1 L897.8,314.5 L898.0,303.9 L898.9,304.8 L898.9,298.0 L899.3,306.8 L899.9,299.7 L900.0,320.4 L900.6,302.3 L900.4,302.7 L901.0,295.6 L901.6,307.0 L901.3,290.7 L902.0,296.0 L902.2,294.4 L903.1,290.7 L903.1,287.4 L903.6,291.6 L904.0,286.0 L904.1,290.9 L904.8,286.8 L905.1,288.6 L905.2,287.0 L905.6,292.5 L906.2,286.6 L906.6,290.2 L906.6,284.5 L907.3,300.0 L907.7,286.5 L908.0,288.4 L908.0,285.7 L908.1,291.0 L908.4,282.1 L909.0,288.4 L909.3,279.5 L909.7,278.3 L910.1,268.3 L910.6,279.4 L910.8,280.1 L911.0,283.9 L911.7,283.9 L911.8,288.0 L912.5,282.1 L912.5,290.7 L912.9,282.3" stroke="#e24a33" stroke-width="1.70"/>
<path d="M129.1,466.2 L129.2,454.4 L129.8,446.0 L129.6,438.8 L130.1,427.8 L130.3,425.1 L130.8,427.5 L131.1,423.8 L131.2,425.9 L131.9,423.6 L132.5,421.5 L132.4,424.4 L133.3,420.6 L133.3,422.2 L133.6,418.5 L134.0,411.0 L134.0,412.2 L134.7,418.0 L134.8,417.8 L135.0,411.8 L135.7,411.0 L136.2,416.8 L136.3,417.8 L136.5,423.6 L136.7,428.3 L136.8,427.3 L137.5,432.0 L137.6,432.0 L138.1,427.2 L138.6,429.4 L138.9,426.4 L139.1,423.9 L139.7,427.1 L140.0,422.7 L140.6,425.4 L140.5,420.8 L141.0,422.2 L141.0,421.8 L141.9,415.1 L142.0,415.7 L142.5,410.1 L142.7,408.9 L143.0,413.5 L143.1,411.8 L143.5,416.6 L143.9,419.3 L144.2,416.1 L144.9,420.8 L144.9,419.4 L145.4,419.7 L145.8,425.0 L146.3,423.7 L146.3,427.8 L146.5,429.1 L147.1,424.4 L147.3,426.7 L147.3,422.9 L148.0,423.6 L148.5,425.6 L148.4,423.2 L149.3,427.0 L149.3,424.4 L149.7,426.4 L150.3,427.7 L150.7,423.1 L150.7,426.3 L151.5,422.3 L151.2,425.7 L151.9,422.9 L152.0,423.9 L152.5,429.6 L152.9,430.6 L153.0,430.0 L153.5,434.8 L154.0,433.0 L154.3,436.2 L154.8,440.4 L155.1,438.2 L155.0,444.0 L156.0,441.8 L156.1,446.0 L156.7,444.6 L156.7,437.2 L157.3,436.9 L157.5,432.0 L157.4,422.8 L158.1,416.6 L158.1,414.0 L158.3,406.5 L158.9,404.0 L158.9,404.3 L159.4,400.3 L160.1,402.0 L160.2,399.5 L160.1,406.8 L160.6,418.0 L160.8,422.9 L160.9,422.8 L161.6,427.8 L162.3,430.2 L162.3,426.4 L162.7,428.5 L162.7,431.1 L163.1,429.1 L163.6,432.0 L163.8,436.4 L164.8,435.2 L164.8,439.0 L164.8,444.3 L165.5,446.0 L165.4,455.3 L166.2,468.3" stroke="#348abd" stroke-width="1.70"/>
<path d="M165.4,455.3 L166.2,468.3 L166.8,473.1 L166.9,476.7 L167.1,469.6 L167.5,464.1 L167.8,457.2 L167.9,461.6 L168.7,468.1 L168.7,472.5 L169.2,471.1 L169.2,471.3 L169.5,466.9 L170.0,469.8 L170.4,468.3 L171.1,471.4 L170.9,476.3 L171.5,479.5 L171.9,483.1 L172.1,488.2 L172.5,491.6 L172.5,487.6 L173.4,485.5 L173.3,480.9 L173.9,478.1 L174.5,478.3 L174.5,476.5 L174.6,477.4 L175.6,475.8 L175.9,476.5 L176.0,475.3 L176.2,474.0 L176.4,474.7 L177.2,472.8 L177.9,473.6 L177.8,471.7 L178.4,472.2 L178.8,471.1 L178.8,470.6 L179.4,471.8 L179.7,470.6 L180.2,471.8 L180.3,467.5 L180.9,471.1 L180.9,473.7 L181.6,474.8 L181.9,477.9 L182.3,479.5 L182.7,478.5 L183.2,479.3 L183.5,477.9 L183.7,478.1 L184.1,476.2 L184.5,472.4 L184.6,470.4 L185.0,474.0 L185.7,475.8 L185.8,479.5 L186.2,479.9 L186.2,478.2 L186.5,478.9 L187.3,477.6 L187.2,478.4 L187.9,477.4 L187.9,477.7 L188.3,479.9 L188.9,479.4 L189.3,480.9 L189.3,481.9 L189.8,480.9 L190.5,482.1 L190.6,481.4 L191.1,482.5 L191.3,482.3 L192.1,479.7 L191.7,478.8 L192.6,475.5 L192.7,473.9 L193.1,473.5 L193.3,471.4 L193.9,471.1 L194.3,469.6 L194.2,466.6 L194.5,465.9 L195.5,462.6 L195.5,461.3 L195.5,461.6 L196.1,460.3 L196.4,461.4 L196.9,460.6 L197.1,461.1 L197.3,462.8 L197.8,462.8 L198.3,464.1 L198.7,465.2 L198.6,464.5 L199.4,462.1 L200.0,465.4 L200.0,466.2 L200.3,468.1 L200.7,468.5 L201.1,470.4 L201.9,471.0 L202.1,469.9 L202.2,471.0 L202.4,470.0 L202.9,471.1 L203.8,470.0 L203.9,470.4 L204.1,473.0 L204.4,473.8 L205.4,476.8 L205.3,478.1 L205.5,478.3 L205.9,480.5 L206.4,480.2 L206.7,482.0 L206.8,481.8 L207.4,483.0 L207.4,484.4 L208.2,484.2 L208.6,486.0 L208.7,485.7 L208.9,487.6 L209.5,487.9 L209.5,486.4 L210.3,486.7 L210.3,484.5 L211.2,484.8 L211.4,482.6 L211.6,482.3 L212.1,484.9 L212.2,483.4 L212.7,488.6 L213.0,490.0 L213.5,487.1 L213.9,481.9 L214.0,483.0 L214.5,481.2 L214.5,481.0 L215.3,478.8 L215.8,478.5 L215.8,476.7 L216.2,476.2 L216.7,477.3 L216.7,476.1 L217.3,477.2 L217.6,474.0 L218.4,477.3 L218.6,476.7 L219.0,477.8 L219.6,480.4 L220.0,481.0 L220.0,483.0 L220.6,483.6 L220.5,482.6 L220.8,483.9 L221.4,482.9 L222.0,484.3 L222.1,483.7 L222.7,480.8 L222.9,479.6 L223.2,476.7 L223.5,474.2 L223.8,479.5 L223.9,479.6 L224.3,481.8 L224.9,482.3 L225.6,482.1 L225.5,483.8 L225.9,483.0 L226.0,484.7 L226.5,484.2 L227.0,485.1 L227.2,485.6 L227.6,484.1 L228.3,485.1 L228.8,483.6 L228.4,484.5 L229.1,483.7 L229.7,483.4 L229.6,484.9 L230.3,484.0 L230.9,485.4 L231.2,484.5 L231.4,486.0 L231.9,485.8 L232.0,484.2 L232.4,484.2 L232.9,481.7 L233.0,481.6 L233.5,479.5 L234.0,478.8 L234.7,480.2 L234.6,480.0 L234.9,482.0 L235.4,482.3 L236.1,481.4 L236.2,481.9 L236.3,480.3 L236.8,481.0 L237.5,479.3 L237.5,479.5 L238.2,475.4 L237.8,477.4 L238.8,477.6 L238.7,475.6 L239.3,475.9 L239.6,474.6 L240.1,475.3 L240.3,477.7 L240.9,477.7 L241.0,479.5 L241.5,478.7 L241.5,476.5 L241.8,476.3 L242.5,474.0 L242.8,473.7 L243.1,471.8 L243.4,472.2 L244.1,474.2 L244.0,473.7 L244.4,475.8 L245.0,475.5 L245.2,476.7 L245.7,476.6 L245.5,474.7 L246.4,475.2 L246.6,473.9 L247.1,475.2 L247.7,478.0 L247.4,478.7 L248.0,480.9 L248.2,479.8 L248.5,477.0 L249.2,476.5 L249.3,473.7 L249.5,473.3 L250.1,471.1 L250.4,470.2 L251.0,470.9 L251.0,469.0 L251.7,469.7 L251.8,468.4 L252.2,468.3 L252.3,471.7 L252.8,473.5 L253.6,477.4 L253.6,479.5 L254.2,480.7 L253.9,483.4 L255.0,483.8 L255.0,486.0" stroke="#348abd" stroke-width="1.70"/>
<path d="M255.0,483.8 L255.0,486.0 L255.7,490.0 L255.9,489.4 L255.7,495.5 L256.4,495.8 L256.6,491.8 L257.0,493.0 L257.5,486.7 L257.8,486.0 L258.0,485.9 L258.8,476.9 L258.5,482.8 L259.2,479.0 L259.9,476.6 L259.7,479.9 L260.6,475.0 L260.8,477.8 L261.0,473.2 L261.3,474.8 L261.5,476.3 L261.8,472.2 L262.0,476.4 L262.7,474.1 L262.9,474.2 L263.8,479.6 L263.4,477.1 L264.1,480.4 L264.4,481.8 L264.9,477.8 L265.4,481.1 L265.8,476.4 L265.7,479.8 L266.2,477.6 L266.3,474.6 L267.2,477.6 L267.2,473.1 L267.4,476.7 L268.3,471.3 L268.3,472.7 L268.9,474.4 L268.6,470.9 L269.1,475.1 L270.0,471.2 L270.0,475.6 L270.4,474.1 L271.1,472.3 L271.3,475.4 L271.3,472.1 L272.1,475.3 L272.0,471.5 L272.5,475.2 L273.2,473.4 L273.8,471.8 L273.7,475.7 L274.5,472.1 L274.9,475.7 L275.0,472.5 L275.6,476.9 L276.0,474.8 L276.7,473.0 L276.5,477.2 L276.8,472.6 L277.8,477.1 L277.9,472.9 L278.4,473.0 L278.8,472.5 L278.8,476.6 L279.5,474.8 L280.2,474.1 L280.4,478.4 L280.2,475.5 L280.9,479.0 L281.2,482.5 L281.5,479.9 L282.2,484.9 L282.3,483.9 L282.4,481.8 L283.2,484.8 L283.2,480.8 L283.4,483.9 L284.3,479.9 L284.4,481.1 L285.0,482.3 L284.9,479.2 L285.7,482.5 L286.0,478.5 L286.3,481.9 L286.8,474.5 L287.2,479.7 L287.8,481.2 L287.9,477.6 L288.2,480.9 L288.6,477.7 L288.6,480.6 L289.3,479.0 L289.6,475.1 L289.9,477.0 L290.6,471.4 L290.7,472.0 L291.3,475.8 L291.4,473.1 L291.5,478.5 L292.1,477.6 L292.1,474.3 L292.5,477.2 L293.4,472.1 L293.5,473.4 L294.2,475.6 L294.2,473.1 L294.3,477.2 L294.9,476.2 L295.4,473.5 L295.8,476.4 L296.0,471.5 L296.3,472.0 L296.7,472.7 L296.7,467.9 L297.2,471.2 L297.7,467.8 L298.4,462.8 L298.6,464.1 L298.9,457.5 L299.1,456.5 L299.2,456.1 L299.8,450.6 L300.0,452.8 L300.5,448.8" stroke="#348abd" stroke-width="1.70"/>
<path d="M300.0,452.8 L300.5,448.8 L300.4,446.8 L301.3,449.3 L301.5,445.2 L301.6,448.8 L302.3,444.3 L302.6,445.3 L302.5,445.1 L303.0,440.1 L303.4,441.9 L304.0,438.3 L304.4,435.2 L304.8,437.6 L304.7,433.0 L305.2,436.0 L305.4,430.9 L306.1,431.3 L306.7,430.8 L306.6,424.0 L307.0,423.7 L307.0,430.2 L307.8,431.4 L308.2,438.3 L308.6,442.2 L309.2,440.7 L309.0,446.8 L309.6,446.7 L309.5,443.7 L310.2,447.3 L310.3,443.0 L311.0,443.9 L310.9,444.7 L312.0,439.2 L311.8,441.3 L312.4,438.3 L312.7,432.1 L313.3,432.0 L313.3,424.1 L313.8,421.6 L313.7,422.9 L314.7,418.6 L314.4,422.6 L315.2,420.2 L315.7,414.4 L316.0,415.0 L316.0,407.8 L316.6,406.2 L316.7,406.3 L317.1,401.9 L317.8,404.1 L318.0,400.6 L318.5,394.4 L318.7,394.3 L319.1,388.7 L319.6,386.6 L319.5,390.2 L320.1,388.0 L320.8,390.6 L321.0,399.0 L321.0,402.0 L321.2,398.6 L322.0,399.9 L322.2,396.4 L322.7,390.5 L323.2,391.1 L323.3,385.9 L323.4,383.3 L324.0,386.4 L324.3,381.2 L324.5,382.4 L324.9,389.0 L325.4,388.5 L325.6,395.0 L325.9,401.0 L326.4,400.3 L326.6,406.2 L326.8,412.1 L327.0,412.5 L327.7,418.8 L327.8,419.7 L328.2,414.5 L328.9,414.6 L329.1,415.0 L329.2,409.3 L330.0,409.0 L330.4,416.5 L330.7,419.0 L330.8,427.2 L330.8,441.9 L331.5,452.3 L331.8,441.9 L332.5,437.8 L332.6,427.2 L332.6,420.7 L333.3,418.8 L334.0,420.3 L333.7,415.0 L334.1,418.3 L334.7,416.0 L335.4,411.2 L335.6,411.7 L335.9,406.2 L336.3,400.1 L336.6,398.5 L336.6,400.9 L337.4,398.3 L337.4,402.2 L337.8,401.3 L337.8,401.1 L338.4,406.2 L338.9,406.2 L339.2,407.3 L340.1,414.4 L340.1,416.0 L340.7,417.3 L340.3,424.5 L341.0,425.8 L341.3,425.7 L341.6,431.4 L342.1,428.9 L342.4,432.7 L343.1,433.7 L343.4,429.8 L343.1,432.3 L343.8,429.9 L344.4,430.4 L344.1,436.5 L344.9,434.3 L345.2,438.3 L345.3,443.0 L345.8,441.3 L346.1,447.9 L346.6,448.1 L346.8,442.5 L347.4,443.3 L347.6,438.3 L347.6,430.8 L347.8,429.2 L348.5,421.6 L349.0,417.1 L349.3,419.2 L349.4,413.0 L349.9,412.5 L350.5,418.7 L350.8,419.8 L350.8,425.8 L351.0,431.9 L351.9,433.4 L352.0,439.7 L352.2,443.1 L352.4,440.3 L352.9,443.9 L353.3,447.7 L353.9,445.5 L354.0,449.5 L354.2,456.8 L354.6,460.0 L354.6,460.8 L354.7,460.9 L355.5,466.8 L355.7,466.4 L355.8,470.5 L356.4,479.0 L357.0,482.6 L356.8,480.5 L357.8,486.1 L357.8,486.0 L357.9,489.2 L358.5,495.8 L359.0,502.4 L359.2,505.5 L359.3,505.2 L359.7,510.9 L360.2,511.1 L360.6,508.5 L360.8,510.9 L361.3,508.3 L362.1,507.4 L362.0,509.7 L361.9,505.6 L362.4,497.2 L362.4,485.7 L363.0,479.0 L363.8,480.5 L363.9,476.2 L363.9,480.0 L364.1,475.8 L364.8,477.6 L365.1,478.1" stroke="#348abd" stroke-width="1.70"/>
<path d="M364.8,477.6 L365.1,478.1 L365.4,473.0 L366.0,475.9 L366.2,472.0 L366.7,466.2 L366.6,467.2 L367.2,459.1 L367.6,458.0 L368.3,461.0 L368.4,456.9 L368.6,462.1 L369.0,460.1 L369.5,459.4 L369.9,465.2 L370.3,461.3 L370.4,465.0 L370.9,469.5 L371.0,467.0 L371.1,473.7 L371.8,473.4 L372.4,469.8 L372.6,473.0 L372.8,467.2 L373.2,467.8 L373.6,467.6 L374.0,460.9 L374.0,463.4 L374.8,455.8 L374.9,455.9 L375.3,461.5 L375.3,460.1 L376.0,466.4 L376.1,467.3 L377.1,461.0 L376.7,464.4 L377.4,460.8 L377.8,460.6 L378.1,467.5 L378.7,464.7 L378.8,469.2 L379.1,470.9 L379.3,465.3 L379.8,469.9 L379.9,464.3 L380.4,469.0 L380.9,465.7 L381.1,464.4 L381.2,468.6 L381.9,464.8 L382.1,469.8 L382.6,467.8 L382.7,456.2 L383.7,451.1 L383.7,439.0 L383.8,440.1 L384.3,448.3 L384.5,447.1 L385.1,452.3 L385.7,453.1 L385.8,446.4 L385.9,449.4 L386.5,445.3 L386.7,445.0 L387.5,452.6 L387.5,450.1 L387.9,455.1 L388.3,454.3 L388.9,447.7 L389.2,448.8 L389.3,443.9 L389.6,443.0 L389.9,448.0 L390.0,445.2 L390.7,448.1 L390.9,449.2 L391.2,443.4 L391.7,446.2 L392.1,442.5 L392.6,444.0 L393.1,452.3 L392.8,451.4 L393.5,457.9 L394.2,446.5 L393.9,427.4 L394.5,416.0 L395.0,412.0 L394.8,401.2 L395.6,396.4 L395.9,398.6 L395.9,395.3 L395.9,395.5 L396.7,399.7 L396.7,403.5 L397.1,403.6 L397.3,411.4 L397.6,424.3 L398.2,433.6 L398.1,439.1 L398.2,441.5 L398.8,449.0 L399.2,451.2 L399.4,448.0 L399.8,436.1 L399.9,429.3 L400.5,417.7 L400.6,400.7 L400.7,397.7 L401.3,402.5 L401.6,399.7 L401.9,396.2 L402.3,397.7 L402.7,396.5 L403.1,389.9" stroke="#348abd" stroke-width="1.70"/>
<path d="M402.7,396.5 L403.1,389.9 L403.2,384.8 L403.8,383.9 L404.1,359.0 L404.4,330.0" stroke="#348abd" stroke-width="1.70"/>
<path d="M404.4,330.0 L404.5,203.4" stroke="#348abd" stroke-width="1.50"/>
<path d="M404.5,203.4 L404.8,225.3 L405.1,251.0 L405.5,254.4 L405.8,253.8 L406.2,218.5 L406.5,188.0 L406.3,180.4 L406.9,167.0 L407.2,181.7 L407.5,202.0 L408.0,202.4 L408.2,197.8 L408.4,206.9 L408.9,221.6 L409.6,207.1 L409.6,188.0 L410.0,186.8 L410.3,189.4 L410.3,205.3 L411.0,216.0 L411.5,216.3 L411.7,221.6 L411.8,237.8 L412.1,248.2 L412.4,241.9 L413.1,244.0 L413.1,238.4 L413.6,238.0 L413.6,243.7 L414.1,242.6 L414.3,244.0 L414.8,253.4 L415.2,255.2 L415.3,239.9 L415.9,230.0 L416.2,232.0 L416.6,229.3 L417.2,233.5 L417.3,242.6 L417.9,253.8 L418.0,260.8 L418.3,264.8 L418.7,273.4 L419.0,267.6 L419.5,254.5 L419.7,249.6 L419.9,261.2 L420.2,265.1 L420.8,276.2 L421.3,281.9 L421.2,280.0 L421.9,286.0 L422.5,282.1 L422.2,270.4 L422.9,266.4 L422.9,263.6 L424.0,254.6 L424.0,251.7 L424.4,261.0 L425.0,262.5 L425.0,272.0 L425.4,277.8 L425.8,275.9 L426.0,281.8 L426.5,279.1 L426.8,269.4 L427.1,266.4 L427.6,265.9 L427.5,258.9 L428.1,258.0 L428.6,259.4 L428.9,254.2 L429.2,256.6 L429.8,264.0 L429.9,264.1 L430.2,272.0 L430.3,265.7 L430.9,255.2 L431.1,245.4 L431.7,242.6 L432.0,232.8 L432.0,214.5 L432.7,202.0 L432.6,203.8 L433.6,198.7 L433.6,199.9 L434.4,204.0 L434.0,200.9 L434.8,204.8 L435.2,216.2 L435.5,223.0 L436.2,221.8 L436.1,228.9 L436.6,226.3 L436.9,230.0 L436.9,220.2 L437.6,206.2 L437.5,204.2 L438.0,208.5 L438.3,202.7 L439.0,205.5 L439.0,209.1 L439.9,205.1 L440.1,207.6 L440.6,223.7 L440.6,235.6 L440.6,241.0 L441.4,253.2 L441.5,258.0 L442.0,252.8 L442.2,255.2 L442.5,251.0 L442.8,246.0 L442.9,249.2 L443.4,244.0 L443.9,238.7 L443.6,241.1 L444.3,237.0 L444.9,239.3 L445.0,246.8 L445.2,257.8 L445.7,265.0 L445.8,247.6 L446.4,235.6 L446.6,231.1 L446.9,220.9 L447.2,225.7 L447.6,234.2 L448.0,235.3 L448.1,228.8 L448.8,230.0 L449.0,236.3 L449.5,237.0 L449.9,243.5 L450.2,255.2 L450.4,258.9 L451.2,255.2 L451.3,262.1 L451.6,260.8 L451.6,266.3 L452.3,276.2 L452.8,281.6 L452.8,278.3 L453.7,286.0 L453.7,286.0 L454.1,285.6 L454.3,293.0 L454.6,290.4 L455.1,295.8 L455.5,297.3 L456.0,290.8 L455.7,294.7 L456.5,291.6 L456.7,284.3 L457.4,283.8 L457.4,276.2 L457.4,266.3 L458.1,262.2 L458.8,269.6 L458.9,268.7 L459.3,276.2 L459.9,276.2 L460.1,269.2 L460.2,272.8 L460.6,267.8 L461.0,265.6 L461.1,270.1 L462.0,264.4 L462.1,268.9 L462.4,264.0 L462.7,266.4 L462.9,268.2 L463.7,263.3 L463.5,268.2 L464.1,265.7 L464.7,257.8 L465.0,257.5 L465.3,250.3 L465.9,252.8 L465.9,263.4 L466.2,266.4 L466.3,264.0 L466.7,268.8 L467.2,264.3 L467.6,267.1 L467.9,287.4 L468.3,302.7 L468.4,294.7 L469.5,293.4 L469.5,286.0 L469.4,276.0 L470.0,270.6 L470.6,279.7 L470.8,281.6 L471.1,290.2 L471.5,288.9 L471.5,281.3 L472.5,282.7 L472.5,276.2 L473.0,272.4 L473.5,275.5 L473.7,272.0 L474.3,274.3 L474.6,284.0 L474.6,286.0 L474.8,284.4 L475.1,290.6 L475.4,288.1 L476.0,291.6 L476.4,293.4 L476.7,288.7 L477.4,294.5 L477.4,291.6 L477.9,285.5 L477.8,285.4 L478.3,276.0 L478.8,274.8 L479.3,274.4 L479.7,266.2 L479.8,268.6 L480.2,263.6 L480.9,265.8 L480.7,275.0 L481.2,276.2 L481.4,276.7 L482.3,283.1 L482.3,283.2 L483.0,280.5 L483.3,285.5 L483.5,281.2 L483.4,287.1 L484.3,282.4 L484.4,284.6 L484.9,285.9 L485.2,279.3 L485.2,282.5 L485.8,278.3 L486.0,278.6 L486.6,285.3 L487.0,286.0 L487.1,289.6 L487.7,299.1 L487.9,302.7 L488.5,302.3 L488.3,307.6 L488.8,304.0 L489.3,308.3 L489.9,300.5 L489.6,284.0 L490.2,276.2 L490.1,258.2 L490.7,235.6 L491.4,231.3 L491.4,235.4 L491.8,231.4 L492.5,242.5 L492.5,258.0 L493.0,277.8 L493.2,293.0 L493.3,283.1 L494.1,279.0 L494.2,269.2 L494.3,261.8 L494.7,262.2 L495.0,252.2 L495.6,249.6 L496.2,261.5 L496.0,267.0 L496.6,279.0 L496.8,286.0 L497.0,285.4 L497.7,293.0 L497.7,299.7 L498.6,297.5 L498.8,304.1 L499.2,310.4 L499.3,310.4 L499.8,316.7 L500.1,311.8 L500.9,299.8 L500.5,298.7 L501.2,288.8 L501.9,277.2 L502.1,271.7 L502.7,258.3 L502.6,251.0 L503.2,249.5 L503.0,242.1 L503.9,242.8 L504.0,237.7 L504.1,240.2 L505.0,249.8 L505.0,252.4 L505.4,253.5 L505.4,260.6 L506.2,259.1 L506.4,265.0 L506.4,269.2 L507.2,267.5 L507.3,274.1 L507.9,271.9 L508.2,276.2 L508.8,276.0 L508.7,268.1 L509.5,269.7 L509.6,265.0 L510.1,266.2 L510.6,273.8 L510.9,273.3 L511.0,279.0 L511.3,272.9 L512.0,259.4 L512.0,252.4 L512.7,259.4 L512.5,259.6 L513.1,266.4 L513.4,273.4 L513.7,272.8 L513.8,281.5 L514.5,283.2 L514.8,277.6 L514.9,279.3 L515.8,271.1 L515.9,270.6 L516.1,277.3 L516.5,275.6 L516.6,284.8 L517.3,286.0 L518.0,282.6 L518.0,287.4 L518.4,282.1 L519.1,285.9 L518.8,281.6 L519.4,283.2 L519.6,277.7 L519.7,265.7 L520.6,263.0 L520.8,253.8 L520.8,257.7 L521.6,268.2 L522.0,269.2 L522.2,277.6 L522.9,273.7 L522.5,263.4 L523.2,262.2 L523.6,254.5 L523.8,256.0 L524.2,264.4 L524.6,266.4 L525.0,272.7 L525.0,285.7 L525.7,291.1 L526.2,280.3 L526.6,276.4 L526.7,266.0 L527.0,259.8 L527.7,261.7 L527.8,256.2 L528.1,237.6 L528.5,224.0 L529.1,207.3 L529.2,184.8 L529.3,188.2 L529.9,196.0 L530.2,175.8 L530.6,151.2 L531.2,147.6 L531.5,152.7 L531.3,146.3 L532.0,148.4 L532.7,150.2 L532.4,144.1 L533.0,146.3 L533.4,153.9 L533.7,156.8 L534.0,158.3 L534.2,166.2 L534.5,168.0 L534.5,172.6 L535.5,184.0 L535.5,189.0 L536.2,187.7 L536.2,191.8 L536.8,181.3 L537.2,162.8 L537.2,152.6 L537.6,162.2 L537.9,168.0 L538.4,174.3 L538.6,184.8 L539.0,188.3 L539.4,184.7 L539.7,189.0 L540.1,203.3" stroke="#348abd" stroke-width="1.70"/>
<path d="M539.7,189.0 L540.1,203.3 L540.4,212.8 L541.1,213.9 L541.0,222.7 L541.5,224.0 L541.6,229.5 L542.2,240.8 L542.9,233.4 L542.7,217.5 L543.2,210.0 L543.6,224.8 L543.6,232.0 L544.3,246.4 L544.5,239.3 L544.8,225.1 L545.3,218.4 L545.3,211.0 L546.0,198.8 L546.5,192.1 L546.6,193.7 L546.8,186.9 L546.9,192.0 L547.4,203.0 L547.7,212.3 L548.1,215.6 L548.5,213.3 L548.6,219.2 L549.1,217.0 L549.1,219.8 L549.5,230.0 L549.9,232.4 L549.8,242.1 L550.8,260.1 L550.9,270.2 L551.3,267.3 L551.4,271.9 L551.9,268.8 L552.0,255.1 L552.1,251.3 L552.7,238.0 L553.3,217.7 L553.4,201.6 L553.4,204.5 L554.0,199.5 L554.4,202.3 L554.4,204.6 L555.5,198.6 L555.5,200.2 L555.5,204.7 L556.0,200.5 L556.5,204.4 L556.9,206.9 L557.4,200.3 L557.5,203.0 L558.0,206.7 L558.4,201.8 L558.6,205.8 L559.2,206.9 L559.7,199.5 L559.7,200.9 L560.3,206.2 L560.6,204.9 L560.7,210.0 L561.0,226.8 L561.4,238.0 L561.8,248.6 L562.1,266.0 L562.6,276.0 L562.8,277.7 L563.1,288.3 L563.4,298.1 L564.0,300.1 L564.2,310.0 L564.4,304.8 L564.7,291.8 L565.2,286.9 L565.7,277.5 L565.9,263.2 L566.2,257.2 L566.3,260.2 L567.0,254.8 L567.0,251.6 L567.7,256.2 L568.4,250.5 L568.4,252.0 L569.0,251.0 L569.4,241.8 L569.4,243.8 L569.8,238.0 L569.7,232.1 L570.6,235.0 L570.9,230.3 L571.6,241.9 L571.6,259.0 L571.9,265.3 L572.3,262.1 L572.6,268.8 L573.1,270.1 L573.2,263.4 L573.7,264.6 L573.9,272.5 L574.5,271.5 L574.7,279.9 L574.7,286.9 L575.3,285.8 L575.8,292.5 L576.2,288.8 L576.8,276.2 L576.8,273.0 L577.1,268.7 L577.9,256.1 L577.9,252.0 L578.2,254.0 L578.3,247.9 L578.9,250.6 L579.6,260.7 L579.6,266.0 L579.9,268.4 L580.5,279.3 L580.5,282.7 L581.2,274.2 L581.6,274.9 L581.7,266.0 L581.7,252.6 L582.3,246.9 L582.6,233.8 L582.8,230.6 L583.5,235.1 L583.8,232.4 L584.0,237.5 L584.6,251.6 L584.9,256.2 L585.1,259.7 L585.4,270.5 L585.9,273.0 L585.7,249.0 L586.3,231.0 L586.7,211.8 L586.6,187.6 L587.0,182.0 L587.3,184.3 L587.4,176.4 L588.0,176.4 L588.3,178.6 L588.7,175.0 L589.0,176.3 L589.0,187.0 L589.6,189.0 L590.2,195.2 L590.3,205.8 L590.4,207.3 L591.0,204.4 L591.3,206.3 L591.7,216.0 L591.9,217.0 L591.8,238.3 L592.4,266.0 L592.9,289.0 L592.9,307.9 L592.9,311.0 L592.6,319.1 L592.6,318.8 L592.9,311.1 L593.6,310.7 L594.0,295.8 L594.3,274.4 L594.6,272.5 L594.6,278.3 L595.4,273.2 L595.6,277.2 L596.0,281.2 L596.1,275.7 L597.0,281.3 L597.0,279.9 L597.2,287.0 L598.0,303.7 L598.0,310.7 L598.5,298.9 L598.8,295.4 L599.1,282.7 L599.3,285.7 L600.0,297.9 L600.0,299.3 L600.5,307.9 L600.9,304.6 L601.1,291.8 L601.7,288.3 L601.9,303.2 L602.7,311.2 L602.6,326.1 L603.0,316.9 L603.3,300.6 L603.6,291.1 L603.9,292.5 L604.1,286.7 L604.7,287.6 L605.0,314.9 L605.4,335.9 L605.4,354.5 L605.9,377.9 L606.0,371.0 L606.6,357.1 L606.8,349.9 L606.9,343.1 L607.2,328.2 L607.8,321.9 L608.5,322.5 L608.5,316.0 L608.9,316.3 L609.5,307.4 L609.5,289.8 L609.9,279.9 L610.1,281.6 L610.2,273.8 L610.8,275.8 L611.1,289.8 L611.4,294.9 L611.7,307.9 L612.3,338.1 L612.4,363.9 L613.1,347.5 L613.1,335.9 L613.4,373.7 L613.8,405.9 L614.2,380.2 L614.8,361.6 L614.8,335.9 L615.2,331.1 L615.4,333.6 L615.9,328.2 L616.2,337.0 L616.6,354.9 L616.9,363.9 L617.2,372.2 L617.4,387.5 L618.0,396.1 L618.2,384.5 L618.4,382.2 L619.0,370.9 L619.3,374.1 L619.6,385.7 L620.1,389.1 L620.4,378.5 L620.6,374.6 L621.3,363.9 L621.4,348.3 L622.0,338.7 L622.6,346.4 L622.9,345.9 L622.9,354.1 L623.0,353.6 L623.3,344.2 L624.0,342.9 L624.5,350.5 L624.6,349.7 L625.0,356.9 L625.5,355.6 L626.0,346.1 L626.0,344.3 L626.5,344.0 L626.4,336.4 L627.1,335.9 L627.7,328.7 L627.8,314.9 L627.8,295.8 L628.5,282.7 L628.6,282.3 L629.1,275.3 L629.6,275.1 L629.6,287.1 L630.2,293.9 L630.7,299.4 L631.2,312.1 L631.3,317.7 L631.8,314.6 L632.0,319.4 L632.3,313.7 L632.7,316.3 L633.3,318.0 L633.3,312.5 L634.1,317.4 L634.1,314.9 L634.0,287.6 L634.5,266.0 L634.5,256.8 L635.1,242.9 L635.1,242.8 L635.9,252.2 L635.9,252.0 L636.4,255.9 L636.8,266.7 L636.9,270.2 L637.1,270.3 L638.0,278.8 L638.0,279.9 L638.7,278.3 L638.9,284.8 L639.0,282.7 L639.4,292.6 L639.3,311.5 L640.0,321.9 L640.1,368.1 L640.4,335.0 L640.8,307.9 L641.5,304.1 L641.7,292.7 L641.8,288.3 L642.3,296.4 L642.3,297.1 L643.2,309.0 L643.2,312.1 L643.6,305.7 L643.6,307.5 L644.2,299.1 L644.6,298.1 L644.8,299.4 L645.5,293.8 L645.5,297.9 L646.0,293.9 L646.4,280.4 L646.7,271.6 L647.4,273.9 L647.3,268.3 L647.5,273.7 L648.1,270.2 L648.3,265.0 L648.8,268.6 L649.1,263.2 L649.2,258.2 L649.9,262.4 L650.2,257.6" stroke="#348abd" stroke-width="1.70"/>
<path d="M649.9,262.4 L650.2,257.6 L650.8,250.5 L650.6,250.4 L651.1,240.9 L651.6,238.0 L651.6,228.0 L652.3,214.2 L652.4,203.1 L653.0,196.0 L653.3,198.0 L653.5,193.3 L654.0,194.6 L654.3,201.9 L654.4,203.0 L655.1,210.0 L655.9,210.3 L655.5,204.7 L656.2,205.8 L656.9,207.4 L656.6,201.6 L657.2,203.0 L657.5,198.2 L657.9,187.1 L658.2,182.0 L658.8,178.1 L658.8,168.4 L659.0,165.2 L659.4,183.3 L659.6,196.0 L659.6,199.1 L660.0,206.2 L660.0,204.3 L661.0,196.2 L661.1,195.0 L661.2,199.3 L662.0,197.2 L662.1,202.0 L662.2,197.0 L662.8,186.6 L663.4,193.8 L663.5,206.2 L663.7,209.4 L664.4,205.7 L664.5,208.3 L664.7,214.3 L665.1,213.9 L665.6,220.2 L665.7,228.4 L666.3,231.3 L666.7,230.6 L667.2,235.6 L667.3,234.1 L668.0,225.6 L668.0,224.8 L668.4,216.0 L668.4,211.6 L669.1,213.8 L669.4,209.7 L669.9,210.9 L670.1,217.6 L670.5,218.8 L670.5,220.7 L671.1,229.8 L671.5,232.7 L672.0,231.8 L672.5,236.3 L672.6,235.5 L673.1,228.9 L673.1,229.8 L673.6,223.7 L674.0,221.9 L674.2,227.2 L674.7,225.8 L675.1,226.4 L675.7,234.0 L675.7,234.1 L675.9,233.0 L676.5,237.7 L676.8,236.2 L676.9,230.7 L677.4,231.0 L677.9,225.8 L678.6,222.5 L678.9,226.4 L679.3,219.8 L679.3,221.6 L679.9,225.3 L680.1,222.6 L680.3,225.8 L680.4,230.4 L681.3,228.1 L681.3,232.7 L681.8,237.8 L681.9,236.3 L682.4,241.1 L682.4,247.7 L683.2,246.9 L683.1,254.9 L683.8,256.5 L684.1,249.0 L684.5,248.6 L684.9,241.1 L685.3,237.9 L685.2,241.4 L685.9,238.3 L686.5,226.7 L686.6,218.8 L686.6,220.1 L687.0,214.2 L687.6,216.0 L687.9,215.6 L688.3,209.8 L688.4,212.0 L689.0,207.6 L688.9,212.2 L689.4,221.6 L689.8,234.3 L690.1,242.5 L690.3,236.6 L690.7,235.9 L691.1,229.9 L691.5,228.2 L692.0,234.3 L692.2,232.7 L692.9,218.3 L692.9,207.6 L692.9,209.4 L693.5,203.6 L694.3,207.3 L694.3,204.8 L694.8,201.5 L695.1,204.7 L695.3,202.0 L695.4,199.5 L695.6,202.7 L696.4,199.9 L696.5,198.2 L697.3,203.3 L697.5,202.0 L698.1,204.0 L698.4,212.7 L698.5,214.6 L699.2,214.6 L699.0,221.9 L699.6,221.6 L699.8,221.8 L700.4,230.0" stroke="#348abd" stroke-width="1.70"/>
<path d="M699.8,221.8 L700.4,230.0 L700.2,227.0 L700.9,232.7 L701.4,238.9 L701.8,237.1 L702.0,243.9 L702.4,251.5 L702.7,255.1 L703.1,237.0 L703.4,223.0 L703.4,231.0 L704.3,230.1 L704.5,238.3 L704.6,235.0 L705.4,224.7 L705.5,221.6 L705.5,223.8 L705.8,218.7 L706.4,220.2 L706.5,226.4 L706.8,224.1 L707.3,229.9 L707.5,220.2 L707.8,204.8 L708.5,203.1 L708.7,208.3 L709.0,206.2 L709.7,200.9 L709.6,203.4 L710.1,199.2 L710.4,195.7 L711.0,199.4 L711.1,195.0 L711.2,187.4 L711.8,183.8 L712.2,180.7 L712.3,169.2 L712.6,165.6 L713.2,162.1 L713.2,154.4 L713.7,150.6 L713.6,151.6 L713.6,154.8 L714.0,150.2 L714.6,153.0 L715.0,155.8 L714.9,150.6 L715.5,152.3 L715.9,154.0 L716.2,148.2 L716.7,150.2 L716.6,171.5 L717.4,188.0 L717.4,267.3 L717.8,351.9 L718.1,350.5 L718.1,342.0 L718.8,341.9 L719.3,312.3 L719.3,276.2 L719.9,246.7 L720.0,230.4 L720.4,209.0 L720.7,201.7 L721.4,202.8 L721.3,195.0 L721.7,192.1 L722.2,196.0 L722.3,192.2 L722.7,189.7 L722.8,195.8 L723.2,193.6 L723.7,159.1 L723.7,129.2 L724.3,131.3 L724.2,124.6 L724.6,126.4 L725.1,127.0 L725.3,119.2 L725.5,119.4 L725.8,121.5 L725.8,116.4 L726.3,120.9 L726.8,115.1 L727.2,118.0 L727.2,111.1 L727.6,97.2 L728.0,90.1 L727.9,105.4 L728.6,116.6 L728.8,114.5 L729.3,121.0 L729.5,119.4 L729.5,119.0 L729.9,125.2 L730.4,125.0 L730.9,130.4 L731.1,140.4 L731.7,144.4 L731.6,143.2 L732.2,156.2 L732.0,174.0 L732.1,177.4 L732.7,175.4 L733.1,177.4 L733.3,187.0 L733.7,188.0 L734.0,185.5 L734.1,191.9 L734.8,189.4 L735.5,191.0 L735.3,200.0 L735.8,202.0 L735.8,193.7 L736.5,191.6 L736.7,183.1 L736.9,182.5 L737.4,188.5 L737.6,188.0 L738.1,187.3 L738.5,194.8 L738.6,195.0 L739.1,188.8 L739.6,190.9 L739.7,185.9 L740.0,184.0 L740.2,190.3 L740.9,189.4 L741.5,192.4 L741.9,203.3 L741.8,206.2 L742.1,211.7 L742.5,221.6 L743.0,232.8 L743.2,238.3 L743.7,214.2 L743.9,195.0 L743.9,209.9 L744.2,217.7 L744.9,232.7 L745.1,242.5 L745.6,246.7 L746.0,229.3 L746.1,219.1 L746.5,202.0 L747.1,197.2 L747.5,199.0 L747.4,193.6 L747.9,190.9 L748.1,192.2 L748.3,185.9 L748.8,174.0 L748.9,171.6 L749.5,173.3 L750.1,176.4 L750.2,175.4 L750.8,186.6 L750.9,202.0 L751.3,206.5 L751.6,206.2 L752.0,215.4 L752.3,229.9 L752.8,239.7 L753.0,243.9 L753.4,249.6 L753.5,260.0 L753.9,262.8 L754.0,261.0 L754.5,258.6 L754.8,264.3 L754.9,262.4 L755.2,271.1 L755.6,286.2 L755.8,304.6 L756.1,318.4 L756.2,315.9 L756.8,319.8 L757.1,309.8 L757.5,296.0 L758.0,288.6 L758.5,289.0 L758.3,282.0 L758.9,277.0 L759.0,276.4 L759.0,275.2 L759.3,267.8 L759.9,266.6 L760.2,282.5 L760.4,293.2 L761.1,292.9 L760.8,299.3 L761.4,298.8 L762.0,309.2 L762.1,324.0 L762.2,334.6 L762.8,339.1 L763.4,324.1 L763.9,315.4 L763.8,300.2 L764.2,298.1 L764.6,303.5 L764.6,301.6 L764.9,294.9 L765.3,293.2 L765.4,286.5 L766.0,273.6 L766.0,281.9 L766.7,296.0 L767.0,318.3 L767.4,335.2 L767.4,323.7 L768.1,318.4 L768.4,322.9 L769.2,319.0 L769.1,324.0 L769.2,320.4 L769.6,309.1 L770.1,305.1 L770.2,312.4 L770.9,312.7 L770.9,319.8 L771.1,325.8 L771.4,323.1 L771.9,329.6 L772.0,331.3 L773.0,324.7 L773.0,326.8 L773.6,332.8 L773.5,331.2 L774.0,338.0 L774.4,340.3 L774.7,338.0 L774.8,338.6 L775.5,348.2 L775.8,349.1 L776.2,346.2 L776.3,351.3 L776.8,347.7 L777.1,350.8 L777.9,362.8 L777.9,365.9 L778.6,371.5 L778.6,381.3 L778.8,381.2 L779.0,372.8 L779.6,371.5 L779.4,368.9 L780.0,359.9 L780.1,361.1 L780.7,368.3 L780.7,375.4 L781.5,374.6 L781.7,380.9 L781.8,380.6 L782.4,373.2 L782.5,373.9 L783.2,370.9 L783.0,359.9 L783.5,355.8 L784.0,357.3 L784.2,351.0 L784.5,351.6 L784.8,351.4 L784.8,344.8 L785.6,344.6 L785.8,345.4 L786.0,336.9 L786.7,337.6 L786.8,338.2 L787.1,331.4 L787.7,332.0 L787.7,331.0 L788.3,321.6 L788.7,320.8 L788.8,322.6 L789.6,317.8 L789.5,320.1 L789.6,327.8 L790.5,327.6 L790.5,336.2 L790.6,339.5 L791.0,335.0 L791.5,337.6 L791.5,341.4 L792.1,338.7 L792.6,343.2 L792.8,343.5 L793.4,336.6 L793.6,336.2 L794.0,335.2 L794.5,326.1 L794.7,325.0 L795.3,325.4 L795.3,316.5 L795.7,316.6 L796.0,320.8 L796.3,317.1 L796.8,322.2 L797.0,321.6 L797.8,314.0 L797.8,313.1 L798.2,315.9 L798.3,311.8 L798.9,315.9 L799.1,322.1 L799.3,320.6 L799.9,326.4 L800.5,329.1" stroke="#348abd" stroke-width="1.70"/>
<path d="M799.9,326.4 L800.5,329.1 L800.9,327.3 L801.0,330.6 L801.5,330.4 L801.8,326.3 L802.1,326.4 L802.3,328.3 L802.4,325.0 L803.4,329.0 L803.5,325.9 L803.8,327.8 L803.9,330.5 L804.7,327.5 L805.0,331.4 L805.2,330.6 L805.6,329.4 L806.0,333.0 L806.3,330.2 L806.6,332.0 L806.7,334.1 L807.1,331.3 L807.6,335.5 L808.0,334.1 L808.3,330.7 L808.5,332.5 L809.4,328.0 L809.4,327.8 L809.7,329.2 L810.3,325.8 L810.2,328.6 L810.8,327.1 L811.1,325.7 L811.7,329.8 L812.1,326.7 L812.2,329.2 L812.4,336.0 L813.1,338.5 L813.2,346.0 L813.2,351.0 L813.4,352.0 L814.0,357.2 L814.6,354.9 L814.6,348.1 L815.0,346.0 L815.3,345.4 L815.9,340.2 L816.1,340.4 L816.4,340.9 L817.0,336.4 L817.3,338.5 L817.5,336.2 L817.8,338.9 L818.0,346.0 L818.5,348.8 L818.7,347.6 L818.9,350.7 L819.2,348.2 L819.9,350.2 L820.4,348.2 L820.4,342.2 L820.9,340.4 L821.5,343.2 L821.7,341.9 L822.0,344.6 L822.1,344.3 L822.9,338.8 L822.9,340.0 L823.4,336.2 L823.7,333.9 L824.2,335.6 L824.3,331.6 L824.8,332.0 L825.4,336.0 L825.4,335.2 L825.9,339.0 L826.6,342.5 L826.9,341.3 L826.9,344.6 L827.1,344.9 L827.4,340.0 L828.1,341.6 L828.3,339.0 L828.6,338.5 L829.3,342.7 L828.9,340.3 L829.7,343.2 L830.0,341.1 L830.6,334.1 L830.6,332.0 L830.9,330.7 L831.2,324.5 L831.6,323.6 L831.9,329.8 L832.3,331.0 L832.5,337.6 L832.7,340.1 L833.3,337.7 L833.7,341.3 L833.9,340.4 L833.9,342.3 L834.3,349.2 L835.0,351.6 L835.0,350.6 L835.8,354.7 L836.0,354.4 L836.0,350.6 L836.8,351.9 L836.7,346.5 L837.4,346.0 L837.6,348.4 L838.5,345.7 L838.7,349.9 L838.8,348.8 L839.0,343.7 L839.1,342.9 L839.9,337.6 L840.0,331.4 L840.4,330.6 L840.9,325.0 L841.5,321.7 L841.5,322.9 L841.8,319.4 L841.8,319.2 L842.9,323.6 L843.0,323.6 L843.6,322.7 L843.5,326.8 L844.1,326.4 L844.4,327.9 L844.7,333.5 L845.1,334.8 L845.4,333.6 L845.9,337.2 L846.0,336.2 L846.7,337.1 L846.4,342.5 L847.2,343.2 L847.5,346.4 L847.9,354.0 L848.1,357.2 L848.2,351.0 L848.5,349.7 L849.0,343.2 L849.5,339.1 L849.6,340.2 L849.9,336.2 L850.2,331.0 L850.2,331.5 L850.9,326.4 L851.4,324.4 L852.0,326.7 L852.0,325.0 L852.5,324.2 L853.1,327.4 L853.3,324.9 L853.4,327.1 L853.9,322.7 L854.1,315.2 L854.4,314.4 L855.2,318.4 L855.3,318.0 L855.9,318.5 L855.6,323.1 L856.2,323.6 L856.8,317.2 L856.8,315.3 L857.2,308.2 L857.4,302.3 L857.9,299.8 L858.4,303.1 L858.3,301.3 L859.0,304.0 L859.0,305.3 L859.5,301.2 L860.0,302.6 L860.5,305.4 L860.8,303.9 L861.1,306.8 L861.8,307.8 L862.1,304.6 L862.4,307.1 L862.5,305.4 L862.8,304.3 L863.2,308.5 L863.7,308.2 L863.8,309.9 L864.0,316.6 L864.6,318.3 L865.1,316.8 L865.4,319.9 L865.6,318.3 L866.2,312.4 L866.5,310.3 L866.5,304.4 L867.1,299.6 L866.9,300.4 L867.4,296.0 L868.0,287.5 L868.1,282.0 L868.8,277.3 L868.8,269.4 L869.2,269.0 L869.6,273.1 L869.8,272.2 L869.8,277.5 L870.2,287.5 L870.7,293.2 L871.3,289.8 L871.6,291.7 L871.6,289.0 L872.0,286.8 L872.2,289.1 L872.6,286.2 L873.1,284.9 L873.2,288.8 L873.7,288.3 L873.9,286.5 L874.2,289.6 L874.9,287.6 L875.0,288.5 L875.6,294.4 L875.8,296.0 L876.2,290.0 L876.6,288.5 L876.8,282.0 L876.7,278.1 L877.0,278.9 L877.6,275.0 L877.7,272.8 L878.2,275.7 L878.6,273.6 L879.1,273.5 L879.0,277.7 L879.6,277.8 L879.8,278.6 L880.5,285.2 L880.4,286.2 L880.5,282.7 L881.4,283.7 L881.4,280.6 L881.8,278.8 L881.8,281.3 L882.4,279.2 L882.5,278.5 L883.2,282.7 L883.5,282.0 L883.6,288.9 L884.2,298.8 L884.3,289.8 L884.9,277.8 L885.0,278.8 L885.6,284.3 L885.9,284.8 L885.9,286.6 L886.6,294.2 L887.0,296.0 L887.4,291.8 L887.5,293.0 L888.0,289.0 L888.1,286.9 L888.4,289.9 L889.1,288.3 L889.5,286.8 L890.1,289.7 L890.2,287.0 L890.5,288.3 L890.9,289.7 L891.4,286.4 L891.4,289.5 L891.9,288.3 L892.7,290.4 L892.6,296.0 L893.0,297.7 L893.5,295.1 L893.6,297.4 L894.1,300.2 L894.5,298.6 L894.4,301.6 L895.1,304.6 L895.0,303.8 L895.4,307.2 L895.6,316.8 L896.1,323.9 L896.6,313.1 L896.8,305.8 L897.0,304.7 L897.2,299.8 L897.8,298.8 L898.0,298.7 L898.9,294.0 L898.9,294.6 L899.3,297.8 L899.9,295.8 L900.0,298.8 L900.6,298.4 L900.4,292.4 L901.0,291.8 L901.6,292.1 L901.3,287.1 L902.0,287.6 L902.2,287.5 L903.1,282.5 L903.1,282.0 L903.6,283.0 L904.0,279.3 L904.1,279.9 L904.8,282.3 L905.1,279.0 L905.2,281.3 L905.6,282.8 L906.2,279.0 L906.6,282.0 L906.6,279.9 L907.3,278.3 L907.7,281.1 L908.0,278.1 L908.0,279.2 L908.1,280.5 L908.4,276.4 L909.0,277.8 L909.3,274.7 L909.7,267.5 L910.1,264.5 L910.6,271.0 L910.8,273.6 L911.0,273.2 L911.7,278.2 L911.8,277.8 L912.5,276.3 L912.5,280.1 L912.9,278.5" stroke="#348abd" stroke-width="1.70"/>
<path d="M129.1,442.5 L129.6,432.1 L130.1,428.1 L130.6,426.3 L131.1,425.2 L131.6,424.2 L132.1,423.4 L132.6,422.8 L133.1,421.3 L133.6,419.0 L134.1,416.0 L134.6,414.3 L135.1,414.4 L135.6,416.0 L136.1,418.2 L136.6,422.9 L137.1,427.5 L137.6,428.1 L138.1,428.3 L138.6,427.3 L139.1,425.9 L139.6,424.8 L140.1,423.9 L140.6,422.8 L141.1,420.6 L141.6,416.8 L142.1,414.1 L142.6,414.2 L143.1,414.3 L143.6,415.8 L144.1,417.7 L144.6,418.8 L145.1,420.3 L145.6,423.3 L146.1,425.1 L146.6,425.3 L147.1,425.4 L147.6,424.9 L148.1,424.8 L148.6,424.8 L149.1,425.2 L149.6,425.2 L150.1,425.2 L150.6,424.9 L151.1,424.5 L151.6,424.5 L152.1,424.9 L152.6,428.0 L153.1,431.0 L153.6,433.4 L154.1,435.6 L154.6,437.8 L155.1,440.2 L155.6,441.2 L156.1,441.2 L156.6,440.2 L157.1,435.0 L157.6,426.3 L158.1,416.0 L158.6,407.5 L159.1,404.4 L159.6,403.9 L160.1,405.0 L160.6,413.2 L161.1,422.9 L161.6,426.8 L162.1,428.1 L162.6,428.6 L163.1,429.9 L163.6,432.0 L164.1,434.5 L164.6,437.1 L165.1,441.0 L165.6,450.4" stroke="#348abd" stroke-width="2.40"/>
<path d="M255.1,486.2 L255.6,489.7 L256.1,491.1 L256.6,491.1 L257.1,490.3 L257.6,486.9 L258.1,484.4 L258.6,481.7 L259.1,479.6 L259.6,478.0 L260.1,477.1 L260.6,476.1 L261.1,475.2 L261.6,474.6 L262.1,474.6 L262.6,474.7 L263.1,475.7 L263.6,477.9 L264.1,478.9 L264.6,478.9 L265.1,479.0 L265.6,478.3 L266.1,477.5 L266.6,476.5 L267.1,475.4 L267.6,474.3 L268.1,473.4 L268.6,473.3 L269.1,473.3 L269.6,473.5 L270.1,473.8 L270.6,473.8 L271.1,473.8 L271.6,473.7 L272.1,473.6 L272.6,473.6 L273.1,473.6 L273.6,473.6 L274.1,473.8 L274.6,474.1 L275.1,474.3 L275.6,474.5 L276.1,474.7 L276.6,474.8 L277.1,474.8 L277.6,474.8 L278.1,474.8 L278.6,474.8 L279.1,474.8 L279.6,475.3 L280.1,476.4 L280.6,478.0 L281.1,479.6 L281.6,481.2 L282.1,482.5 L282.6,482.5 L283.1,482.5 L283.6,482.0 L284.1,481.4 L284.6,481.0 L285.1,480.7 L285.6,480.4 L286.1,480.2 L286.6,479.9 L287.1,479.7 L287.6,479.5 L288.1,479.3 L288.6,479.2 L289.1,478.7 L289.6,477.0 L290.1,475.0 L290.6,474.7 L291.1,474.7 L291.6,475.1 L292.1,475.3 L292.6,475.3 L293.1,474.9 L293.6,474.9 L294.1,474.8 L294.6,474.6 L295.1,474.5 L295.6,473.9 L296.1,472.3 L296.6,470.8 L297.1,469.4 L297.6,467.2 L298.1,463.9 L298.6,460.0 L299.1,456.1 L299.6,453.3" stroke="#348abd" stroke-width="2.90"/>
<path d="M300.1,450.7 L300.6,448.6 L301.1,447.7 L301.6,446.8 L302.1,446.0 L302.6,444.7 L303.1,442.4 L303.6,440.0 L304.1,437.7 L304.6,436.1 L305.1,434.3 L305.6,432.7 L306.1,430.5 L306.6,429.9 L307.1,429.9 L307.6,430.9 L308.1,435.9 L308.6,440.5 L309.1,443.4 L309.6,444.7 L310.1,444.6 L310.6,444.6 L311.1,443.0 L311.6,441.4 L312.1,438.9 L312.6,434.4 L313.1,429.3 L313.6,423.6 L314.1,421.1 L314.6,420.7 L315.1,419.1 L315.6,415.3 L316.1,410.5 L316.6,406.2 L317.1,403.8 L317.6,401.5 L318.1,398.2 L318.6,393.5 L319.1,390.5 L319.6,390.2 L320.1,390.4 L320.6,395.1 L321.1,396.9 L321.6,396.9 L322.1,395.8 L322.6,392.1 L323.1,387.7 L323.6,385.2 L324.1,385.2 L324.6,385.5 L325.1,387.8 L325.6,393.3 L326.1,399.3 L326.6,405.4 L327.1,411.3 L327.6,414.4 L328.1,414.8 L328.6,414.8 L329.1,413.9 L329.6,413.9 L330.1,414.1 L330.6,420.6 L331.1,432.2 L331.6,433.1 L332.1,433.8 L332.6,428.1 L333.1,422.0 L333.6,418.2 L334.1,417.0 L334.6,415.4 L335.1,412.4 L335.6,408.3 L336.1,403.7 L336.6,400.8 L337.1,400.7 L337.6,400.9 L338.1,402.4 L338.6,404.4 L339.1,407.5 L339.6,411.1 L340.1,415.7 L340.6,420.3 L341.1,425.1 L341.6,428.4 L342.1,430.3 L342.6,430.8 L343.1,431.3 L343.6,431.8 L344.1,432.1 L344.6,434.1 L345.1,437.1 L345.6,440.6 L346.1,442.6 L346.6,442.6 L347.1,441.9 L347.6,436.3 L348.1,428.0 L348.6,420.6 L349.1,418.0 L349.6,417.9 L350.1,418.1 L350.6,422.1 L351.1,428.9 L351.6,434.7 L352.1,439.2 L352.6,442.3 L353.1,444.7 L353.6,447.2 L354.1,451.7 L354.6,458.0 L355.1,462.5 L355.6,465.6 L356.1,471.1 L356.6,478.5 L357.1,481.9 L357.6,484.5 L358.1,489.1 L358.6,496.6 L359.1,502.5 L359.6,507.5 L360.1,508.9 L360.6,509.1 L361.1,509.3 L361.6,508.7 L362.1,503.9 L362.6,490.1 L363.1,480.0 L363.6,478.5 L364.1,478.1 L364.6,477.7" stroke="#348abd" stroke-width="2.50"/>
<path d="M365.1,476.4 L365.6,474.3 L366.1,472.0 L366.6,467.7 L367.1,462.4 L367.6,460.0 L368.1,459.6 L368.6,459.7 L369.1,460.3 L369.6,462.0 L370.1,463.7 L370.6,465.8 L371.1,468.8 L371.6,470.0 L372.1,470.1 L372.6,469.8 L373.1,467.7 L373.6,464.8 L374.1,461.3 L374.6,460.9 L375.1,460.9 L375.6,461.7 L376.1,462.7 L376.6,462.9 L377.1,463.8 L377.6,463.7 L378.1,464.7 L378.6,466.8 L379.1,467.4 L379.6,467.5 L380.1,467.0 L380.6,466.6 L381.1,466.6 L381.6,466.4 L382.1,466.2 L382.6,463.2 L383.1,453.8 L383.6,447.9 L384.1,447.4 L384.6,447.4 L385.1,447.9 L385.6,448.1 L386.1,448.9 L386.6,448.9 L387.1,449.5 L387.6,450.1 L388.1,450.1 L388.6,449.0 L389.1,447.0 L389.6,446.6 L390.1,446.2 L390.6,445.7 L391.1,445.8 L391.6,446.2 L392.1,446.3 L392.6,446.7 L393.1,446.2 L393.6,443.3 L394.1,430.3 L394.6,413.4 L395.1,405.3 L395.6,400.4 L396.1,400.0 L396.6,400.0 L397.1,405.5 L397.6,418.6 L398.1,435.7 L398.6,441.2 L399.1,440.4 L399.6,435.7 L400.1,417.8 L400.6,403.7 L401.1,400.1 L401.6,399.3" stroke="#348abd" stroke-width="2.60"/>
<path d="M406.1,214.9 L406.6,200.5 L407.1,196.8 L407.6,196.8 L408.1,200.5 L408.6,200.8 L409.1,198.3 L409.6,199.7 L410.1,199.9 L410.6,201.3 L411.1,213.0 L411.6,226.1 L412.1,234.4 L412.6,240.2 L413.1,241.6 L413.6,242.5 L414.1,243.3 L414.6,243.9 L415.1,244.2 L415.6,239.9 L416.1,236.1 L416.6,236.8 L417.1,238.5 L417.6,248.9 L418.1,258.2 L418.6,259.1 L419.1,261.6 L419.6,264.4 L420.1,264.8 L420.6,269.7 L421.1,277.2 L421.6,277.6 L422.1,277.0 L422.6,271.0 L423.1,263.4 L423.6,261.8 L424.1,261.4 L424.6,263.8 L425.1,272.1 L425.6,273.8 L426.1,274.1 L426.6,272.2 L427.1,266.4 L427.6,261.3 L428.1,258.6 L428.6,258.4 L429.1,258.7 L429.6,259.4 L430.1,259.2 L430.6,256.9 L431.1,249.2 L431.6,238.6 L432.1,225.6 L432.6,207.5 L433.1,201.7 L433.6,201.9 L434.1,202.0 L434.6,203.8 L435.1,211.7 L435.6,221.9 L436.1,224.0 L436.6,223.8 L437.1,218.0 L437.6,208.8 L438.1,206.0 L438.6,206.0 L439.1,206.1 L439.6,206.6 L440.1,212.9 L440.6,228.1 L441.1,245.8 L441.6,250.3 L442.1,250.4 L442.6,249.4 L443.1,246.3 L443.6,243.5 L444.1,243.2 L444.6,243.3 L445.1,244.4 L445.6,244.8 L446.1,241.8 L446.6,234.7 L447.1,232.1 L447.6,231.0 L448.1,231.5 L448.6,232.7 L449.1,233.9 L449.6,240.4 L450.1,251.1 L450.6,256.4 L451.1,258.6 L451.6,262.7 L452.1,270.4 L452.6,278.2 L453.1,281.8 L453.6,285.2 L454.1,289.0 L454.6,291.8 L455.1,292.9 L455.6,292.8 L456.1,292.4 L456.6,288.2 L457.1,281.2 L457.6,273.1 L458.1,271.6 L458.6,271.4 L459.1,270.8 L459.6,270.6 L460.1,270.4 L460.6,268.4 L461.1,267.4 L461.6,267.1 L462.1,266.8 L462.6,266.5 L463.1,266.2 L463.6,265.9 L464.1,263.6 L464.6,259.7 L465.1,259.7 L465.6,259.7 L466.1,262.2 L466.6,266.3 L467.1,266.8 L467.6,270.9 L468.1,283.8 L468.6,287.1 L469.1,287.1 L469.6,284.4 L470.1,283.9 L470.6,282.8 L471.1,281.5 L471.6,281.5 L472.1,280.0 L472.6,276.1 L473.1,275.6 L473.6,275.8 L474.1,278.2 L474.6,283.7 L475.1,287.7 L475.6,289.4 L476.1,291.1 L476.6,291.3 L477.1,291.3 L477.6,288.5 L478.1,282.5 L478.6,277.5 L479.1,272.2 L479.6,270.0 L480.1,269.7 L480.6,269.9 L481.1,273.6 L481.6,278.3 L482.1,281.4 L482.6,282.9 L483.1,283.6 L483.6,283.8 L484.1,283.8 L484.6,283.2 L485.1,281.8 L485.6,281.7 L486.1,281.7 L486.6,283.2 L487.1,288.1 L487.6,295.3 L488.1,302.2 L488.6,303.2 L489.1,302.5 L489.6,295.0 L490.1,271.6 L490.6,247.4 L491.1,237.6 L491.6,237.2 L492.1,240.2 L492.6,257.0 L493.1,270.7 L493.6,270.7 L494.1,270.9 L494.6,263.1 L495.1,261.5 L495.6,261.5 L496.1,264.6 L496.6,275.3 L497.1,284.7 L497.6,290.9 L498.1,295.9 L498.6,300.6 L499.1,305.5 L499.6,306.2 L500.1,306.0 L500.6,299.5 L501.1,290.4 L501.6,277.1 L502.1,262.6 L502.6,253.1 L503.1,246.0 L503.6,245.2 L504.1,244.9 L504.6,246.6 L505.1,251.6 L505.6,257.2 L506.1,262.0 L506.6,265.7 L507.1,269.0 L507.6,271.4 L508.1,271.5 L508.6,271.4 L509.1,270.7 L509.6,270.5 L510.1,270.3 L510.6,269.2 L511.1,268.9 L511.6,264.2 L512.1,263.1 L512.6,263.1 L513.1,265.1 L513.6,270.9 L514.1,275.6 L514.6,276.2 L515.1,276.4 L515.6,277.0 L516.1,276.7 L516.6,278.0 L517.1,282.3 L517.6,284.3 L518.1,284.4 L518.6,284.2 L519.1,282.9 L519.6,277.9 L520.1,267.9 L520.6,265.9 L521.1,265.4 L521.6,265.8 L522.1,265.9 L522.6,266.3 L523.1,263.6 L523.6,263.5 L524.1,263.2 L524.6,267.4 L525.1,274.3 L525.6,274.9 L526.1,274.4 L526.6,269.3 L527.1,262.0 L527.6,256.5 L528.1,241.3 L528.6,217.0 L529.1,198.3 L529.6,188.7 L530.1,173.0 L530.6,155.9 L531.1,150.1 L531.6,149.1 L532.1,148.7 L532.6,148.7 L533.1,149.9 L533.6,154.9 L534.1,162.4 L534.6,169.1 L535.1,178.4 L535.6,180.2 L536.1,180.9 L536.6,174.3 L537.1,170.6 L537.6,171.5 L538.1,174.0 L538.6,182.6 L539.1,186.7 L539.6,189.4" stroke="#348abd" stroke-width="2.70"/>
<path d="M540.1,201.0 L540.6,213.9 L541.1,218.9 L541.6,223.1 L542.1,222.7 L542.6,225.1 L543.1,228.9 L543.6,229.3 L544.1,226.4 L544.6,226.4 L545.1,223.7 L545.6,208.8 L546.1,199.2 L546.6,198.6 L547.1,198.6 L547.6,204.5 L548.1,213.4 L548.6,216.3 L549.1,219.0 L549.6,225.9 L550.1,238.1 L550.6,256.8 L551.1,261.3 L551.6,262.2 L552.1,258.0 L552.6,240.4 L553.1,216.0 L553.6,202.7 L554.1,201.9 L554.6,201.6 L555.1,201.7 L555.6,201.8 L556.1,202.4 L556.6,203.2 L557.1,203.7 L557.6,204.1 L558.1,203.9 L558.6,203.7 L559.1,204.2 L559.6,204.4 L560.1,205.0 L560.6,210.7 L561.1,222.8 L561.6,245.0 L562.1,265.0 L562.6,278.4 L563.1,288.8 L563.6,295.9 L564.1,295.5 L564.6,295.8 L565.1,285.4 L565.6,269.3 L566.1,261.2 L566.6,257.1 L567.1,254.8 L567.6,253.5 L568.1,252.1 L568.6,248.6 L569.1,243.9 L569.6,238.9 L570.1,237.8 L570.6,237.4 L571.1,240.9 L571.6,254.9 L572.1,263.9 L572.6,265.5 L573.1,266.6 L573.6,267.9 L574.1,271.3 L574.6,278.5 L575.1,282.7 L575.6,282.8 L576.1,281.9 L576.6,274.3 L577.1,265.3 L577.6,257.3 L578.1,254.4 L578.6,254.4 L579.1,256.4 L579.6,265.2 L580.1,272.1 L580.6,271.8 L581.1,272.0 L581.6,264.7 L582.1,249.9 L582.6,237.3 L583.1,235.6 L583.6,236.1 L584.1,238.7 L584.6,248.6 L585.1,252.7 L585.6,252.7 L586.1,234.4 L586.6,199.4 L587.1,182.9 L587.6,179.0 L588.1,178.7 L588.6,179.0 L589.1,181.0 L589.6,187.4 L590.1,197.7 L590.6,204.3 L591.1,207.2 L591.6,222.9 L592.1,253.9 L592.6,287.5 L593.1,295.8 L593.6,295.8 L594.1,285.3 L594.6,276.7 L595.1,276.6 L595.6,276.9 L596.1,278.0 L596.6,278.9 L597.1,283.5 L597.6,290.8 L598.1,291.9 L598.6,293.9 L599.1,295.9 L599.6,295.9 L600.1,295.7 L600.6,296.4 L601.1,299.8 L601.6,302.6 L602.1,302.7 L602.6,301.0 L603.1,300.7 L603.6,295.2 L604.1,293.9 L604.6,294.9 L605.1,307.3 L605.6,339.7 L606.1,347.9 L606.6,347.9 L607.1,340.6 L607.6,328.1 L608.1,320.4 L608.6,317.5 L609.1,308.1 L609.6,291.2 L610.1,284.7 L610.6,284.7 L611.1,285.9 L611.6,300.7 L612.1,326.0 L612.6,343.6 L613.1,357.2 L613.6,359.0 L614.1,352.1 L614.6,346.7 L615.1,336.9 L615.6,336.1 L616.1,337.3 L616.6,349.9 L617.1,367.7 L617.6,377.8 L618.1,378.1 L618.6,381.0 L619.1,383.0 L619.6,379.7 L620.1,376.7 L620.6,375.8 L621.1,366.2 L621.6,355.1 L622.1,350.8 L622.6,348.2 L623.1,346.6 L623.6,348.6 L624.1,350.2 L624.6,348.9 L625.1,347.7 L625.6,347.4 L626.1,343.5 L626.6,339.7 L627.1,333.6 L627.6,321.3 L628.1,299.1 L628.6,283.4 L629.1,282.6 L629.6,282.6 L630.1,288.8 L630.6,301.3 L631.1,310.8 L631.6,315.6 L632.1,316.4 L632.6,316.4 L633.1,315.9 L633.6,315.4 L634.1,301.4 L634.6,267.6 L635.1,255.1 L635.6,254.4 L636.1,255.0 L636.6,263.0 L637.1,270.8 L637.6,275.5 L638.1,278.9 L638.6,281.3 L639.1,287.2 L639.6,300.9 L640.1,305.0 L640.6,306.2 L641.1,302.1 L641.6,299.8 L642.1,299.8 L642.6,301.2 L643.1,303.7 L643.6,303.7 L644.1,302.4 L644.6,299.0 L645.1,296.5 L645.6,294.7 L646.1,287.9 L646.6,277.0 L647.1,271.1 L647.6,270.6 L648.1,269.4 L648.6,266.3 L649.1,262.8 L649.6,260.4" stroke="#348abd" stroke-width="2.90"/>
<path d="M650.1,257.4 L650.6,252.2 L651.1,245.5 L651.6,235.2 L652.1,220.7 L652.6,204.5 L653.1,198.2 L653.6,197.8 L654.1,197.8 L654.6,202.2 L655.1,205.9 L655.6,206.1 L656.1,206.1 L656.6,204.7 L657.1,202.0 L657.6,193.7 L658.1,183.6 L658.6,183.4 L659.1,183.4 L659.6,191.2 L660.1,197.2 L660.6,198.7 L661.1,199.4 L661.6,197.9 L662.1,196.9 L662.6,198.3 L663.1,201.1 L663.6,204.4 L664.1,207.5 L664.6,209.9 L665.1,213.7 L665.6,219.6 L666.1,227.1 L666.6,229.5 L667.1,229.5 L667.6,227.6 L668.1,220.4 L668.6,214.9 L669.1,214.2 L669.6,214.0 L670.1,215.3 L670.6,220.3 L671.1,227.2 L671.6,232.0 L672.1,232.2 L672.6,232.1 L673.1,228.7 L673.6,225.8 L674.1,226.0 L674.6,226.1 L675.1,229.1 L675.6,232.9 L676.1,233.8 L676.6,233.8 L677.1,232.4 L677.6,228.3 L678.1,225.3 L678.6,223.9 L679.1,223.7 L679.6,223.7 L680.1,224.9 L680.6,227.8 L681.1,231.6 L681.6,235.0 L682.1,238.5 L682.6,243.2 L683.1,247.8 L683.6,248.5 L684.1,248.2 L684.6,245.0 L685.1,240.9 L685.6,238.2 L686.1,230.8 L686.6,220.4 L687.1,217.0 L687.6,215.1 L688.1,214.0 L688.6,213.8 L689.1,215.4 L689.6,224.2 L690.1,231.1 L690.6,232.0 L691.1,232.3 L691.6,231.2 L692.1,228.5 L692.6,217.1 L693.1,207.4 L693.6,206.0 L694.1,204.9 L694.6,203.7 L695.1,202.2 L695.6,201.2 L696.1,201.1 L696.6,201.0 L697.1,201.2 L697.6,203.9 L698.1,209.6 L698.6,214.7 L699.1,218.1 L699.6,221.5" stroke="#348abd" stroke-width="2.70"/>
<path d="M700.1,225.8 L700.6,230.4 L701.1,234.3 L701.6,238.9 L702.1,240.2 L702.6,239.9 L703.1,236.7 L703.6,234.3 L704.1,230.8 L704.6,228.3 L705.1,226.7 L705.6,222.9 L706.1,222.9 L706.6,221.3 L707.1,220.0 L707.6,213.0 L708.1,206.1 L708.6,205.2 L709.1,204.3 L709.6,202.0 L710.1,199.4 L710.6,196.8 L711.1,192.2 L711.6,185.4 L712.1,174.7 L712.6,165.6 L713.1,156.3 L713.6,152.9 L714.1,152.7 L714.6,152.4 L715.1,152.3 L715.6,152.2 L716.1,152.2 L716.6,155.3 L717.1,174.0 L717.6,263.7 L718.1,318.4 L718.6,314.7 L719.1,307.3 L719.6,268.7 L720.1,229.9 L720.6,207.4 L721.1,197.7 L721.6,194.2 L722.1,193.3 L722.6,192.7 L723.1,182.1 L723.6,146.6 L724.1,127.8 L724.6,125.4 L725.1,122.1 L725.6,119.8 L726.1,118.9 L726.6,118.4 L727.1,114.5 L727.6,113.7 L728.1,113.2 L728.6,113.6 L729.1,118.2 L729.6,119.9 L730.1,122.8 L730.6,128.8 L731.1,137.1 L731.6,150.1 L732.1,163.4 L732.6,175.7 L733.1,179.7 L733.6,185.7 L734.1,188.3 L734.6,189.1 L735.1,191.1 L735.6,191.1 L736.1,190.8 L736.6,188.6 L737.1,188.4 L737.6,188.4 L738.1,189.9 L738.6,189.8 L739.1,189.6 L739.6,188.9 L740.1,188.7 L740.6,188.8 L741.1,192.3 L741.6,200.6 L742.1,210.4 L742.6,214.7 L743.1,215.3 L743.6,219.4 L744.1,223.5 L744.6,224.0 L745.1,223.1 L745.6,223.1 L746.1,217.6 L746.6,203.4 L747.1,196.5 L747.6,193.6 L748.1,189.1 L748.6,180.4 L749.1,175.4 L749.6,175.4 L750.1,176.2 L750.6,187.3 L751.1,200.2 L751.6,207.6 L752.1,219.9 L752.6,234.1 L753.1,247.3 L753.6,257.7 L754.1,261.0 L754.6,262.3 L755.1,270.6 L755.6,286.7 L756.1,303.5 L756.6,304.6 L757.1,303.9 L757.6,294.7 L758.1,285.8 L758.6,279.3 L759.1,277.6 L759.6,277.6 L760.1,280.2 L760.6,290.7 L761.1,297.0 L761.6,304.5 L762.1,317.3 L762.6,318.4 L763.1,317.8 L763.6,307.9 L764.1,301.4 L764.6,299.6 L765.1,295.2 L765.6,291.9 L766.1,291.3 L766.6,293.7 L767.1,308.2 L767.6,319.8 L768.1,321.6 L768.6,321.1 L769.1,318.6 L769.6,316.3 L770.1,316.8 L770.6,316.3 L771.1,320.4 L771.6,325.1 L772.1,327.4 L772.6,328.3 L773.1,329.3 L773.6,332.0 L774.1,336.6 L774.6,338.6 L775.1,341.6 L775.6,345.7 L776.1,347.9 L776.6,348.9 L777.1,352.0 L777.6,359.3 L778.1,366.8 L778.6,371.0 L779.1,371.5 L779.6,371.2 L780.1,370.8 L780.6,370.8 L781.1,372.7 L781.6,374.0 L782.1,373.6 L782.6,371.2 L783.1,362.0 L783.6,356.0 L784.1,352.7 L784.6,350.2 L785.1,347.4 L785.6,344.2 L786.1,341.1 L786.6,338.2 L787.1,335.4 L787.6,331.7 L788.1,327.0 L788.6,323.1 L789.1,323.5 L789.6,323.3 L790.1,329.0 L790.6,334.6 L791.1,337.1 L791.6,338.3 L792.1,339.2 L792.6,339.2 L793.1,338.4 L793.6,335.0 L794.1,330.6 L794.6,325.6 L795.1,321.4 L795.6,320.4 L796.1,319.6 L796.6,318.3 L797.1,317.4 L797.6,315.8 L798.1,315.5 L798.6,315.7 L799.1,318.2 L799.6,323.2" stroke="#348abd" stroke-width="2.80"/>
<path d="M800.1,327.1 L800.6,328.1 L801.1,328.1 L801.6,327.9 L802.1,327.3 L802.6,327.2 L803.1,327.2 L803.6,327.6 L804.1,328.2 L804.6,329.3 L805.1,330.3 L805.6,330.9 L806.1,331.4 L806.6,332.0 L807.1,332.5 L807.6,332.6 L808.1,332.4 L808.6,331.2 L809.1,328.9 L809.6,327.8 L810.1,327.5 L810.6,327.5 L811.1,327.6 L811.6,328.2 L812.1,330.1 L812.6,335.9 L813.1,343.8 L813.6,348.9 L814.1,348.6 L814.6,348.3 L815.1,345.2 L815.6,342.7 L816.1,340.4 L816.6,339.2 L817.1,339.2 L817.6,339.4 L818.1,343.2 L818.6,348.0 L819.1,348.7 L819.6,348.7 L820.1,346.8 L820.6,344.1 L821.1,343.2 L821.6,342.3 L822.1,341.5 L822.6,340.6 L823.1,337.6 L823.6,335.2 L824.1,334.5 L824.6,334.5 L825.1,334.7 L825.6,336.7 L826.1,339.6 L826.6,341.4 L827.1,341.4 L827.6,341.3 L828.1,341.1 L828.6,341.0 L829.1,340.3 L829.6,339.9 L830.1,337.8 L830.6,332.3 L831.1,330.6 L831.6,331.0 L832.1,331.9 L832.6,336.1 L833.1,338.7 L833.6,340.1 L834.1,342.7 L834.6,347.0 L835.1,350.8 L835.6,351.6 L836.1,351.6 L836.6,350.4 L837.1,348.1 L837.6,347.7 L838.1,347.1 L838.6,346.3 L839.1,344.4 L839.6,340.0 L840.1,334.6 L840.6,328.0 L841.1,323.3 L841.6,322.2 L842.1,322.2 L842.6,322.4 L843.1,323.6 L843.6,325.0 L844.1,326.9 L844.6,330.1 L845.1,333.9 L845.6,335.5 L846.1,337.0 L846.6,339.3 L847.1,342.8 L847.6,346.4 L848.1,346.8 L848.6,346.6 L849.1,342.6 L849.6,338.5 L850.1,333.9 L850.6,329.4 L851.1,326.3 L851.6,325.8 L852.1,325.8 L852.6,325.6 L853.1,325.3 L853.6,322.2 L854.1,318.7 L854.6,317.9 L855.1,318.1 L855.6,318.2 L856.1,318.2 L856.6,316.3 L857.1,310.1 L857.6,304.2 L858.1,303.1 L858.6,302.9 L859.1,302.8 L859.6,303.3 L860.1,303.8 L860.6,304.6 L861.1,305.5 L861.6,305.8 L862.1,306.2 L862.6,306.3 L863.1,306.7 L863.6,308.3 L864.1,311.7 L864.6,315.9 L865.1,315.9 L865.6,315.0 L866.1,309.7 L866.6,303.4 L867.1,298.6 L867.6,291.6 L868.1,281.2 L868.6,274.7 L869.1,273.8 L869.6,274.0 L870.1,278.2 L870.6,286.8 L871.1,288.5 L871.6,288.5 L872.1,287.7 L872.6,287.6 L873.1,287.6 L873.6,287.6 L874.1,287.8 L874.6,288.1 L875.1,289.0 L875.6,289.0 L876.1,288.5 L876.6,284.0 L877.1,279.4 L877.6,275.8 L878.1,275.2 L878.6,275.1 L879.1,275.6 L879.6,278.1 L880.1,280.9 L880.6,281.4 L881.1,281.4 L881.6,280.5 L882.1,280.3 L882.6,280.4 L883.1,280.7 L883.6,282.1 L884.1,282.1 L884.6,283.4 L885.1,285.0 L885.6,285.3 L886.1,286.4 L886.6,290.0 L887.1,290.3 L887.6,290.3 L888.1,289.3 L888.6,288.6 L889.1,288.3 L889.6,288.3 L890.1,288.3 L890.6,288.3 L891.1,288.3 L891.6,288.3 L892.1,290.4 L892.6,294.2 L893.1,296.6 L893.6,297.8 L894.1,299.5 L894.6,302.2 L895.1,304.7 L895.6,307.9 L896.1,307.9 L896.6,307.5 L897.1,303.3 L897.6,299.8 L898.1,297.5 L898.6,296.8 L899.1,296.8 L899.6,296.1 L900.1,295.5 L900.6,294.3 L901.1,291.5 L901.6,289.0 L902.1,286.8 L902.6,284.3 L903.1,282.3 L903.6,281.1 L904.1,280.9 L904.6,280.7 L905.1,280.5 L905.6,280.5 L906.1,280.3 L906.6,279.9 L907.1,279.6 L907.6,279.3 L908.1,278.9 L908.6,278.1 L909.1,275.0 L909.6,272.2 L910.1,272.1 L910.6,272.1 L911.1,274.2 L911.6,276.7 L912.1,277.5 L912.6,277.9" stroke="#348abd" stroke-width="2.30"/>
<polygon points="723.7,129.0 725.5,119.2 728.0,117.1 730.4,122.0 731.6,143.0 732.7,176.5 733.7,188.0 732.0,188.0 729.9,163.9 729.3,158.3 728.6,158.3 728.3,191.9 721.6,194.7 721.6,186.3 723.2,177.9" fill="#348abd" stroke="#348abd" stroke-width="0.8"/>
<polygon points="527.1,240.0 528.1,209.9 528.9,184.8 530.6,151.2 533.0,146.3 534.8,154.0 537.2,151.9 538.6,168.0 540.1,187.6 541.5,207.2 542.5,223.9 540.4,223.9 539.0,207.2 537.9,187.6 536.9,193.2 534.8,194.6 533.1,190.4 532.0,226.7 530.6,240.0" fill="#348abd" stroke="#348abd" stroke-width="0.8"/>
<polygon points="552.3,223.9 552.7,201.6 555.1,200.2 557.5,201.6 559.7,200.2 561.1,203.0 561.7,240.0 560.0,240.0 559.3,222.5 557.9,218.3 556.1,214.1 554.7,223.9 553.7,232.3" fill="#348abd" stroke="#348abd" stroke-width="0.8"/>
<polygon points="404.0,260.0 404.4,203.4 405.7,202.0 406.5,168.4 407.2,167.0 407.9,196.4 409.6,188.0 410.7,189.4 411.3,220.2 412.4,221.6 413.1,243.9 411.0,249.5 409.6,227.2 407.5,229.9 405.7,255.1 405.1,260.0" fill="#348abd" stroke="#348abd" stroke-width="0.8"/>
</g>
<line x1="120.9" x2="127.2" y1="72.50" y2="72.50" stroke="#555555" stroke-width="0.75"/>
<line x1="914.4" x2="920.8" y1="72.50" y2="72.50" stroke="#555555" stroke-width="0.75"/>
<line x1="120.9" x2="127.2" y1="125.50" y2="125.50" stroke="#555555" stroke-width="0.75"/>
<line x1="914.4" x2="920.8" y1="125.50" y2="125.50" stroke="#555555" stroke-width="0.75"/>
<line x1="120.9" x2="127.2" y1="178.50" y2="178.50" stroke="#555555" stroke-width="0.75"/>
<line x1="914.4" x2="920.8" y1="178.50" y2="178.50" stroke="#555555" stroke-width="0.75"/>
<line x1="120.9" x2="127.2" y1="231.50" y2="231.50" stroke="#555555" stroke-width="0.75"/>
<line x1="914.4" x2="920.8" y1="231.50" y2="231.50" stroke="#555555" stroke-width="0.75"/>
<line x1="120.9" x2="127.2" y1="284.50" y2="284.50" stroke="#555555" stroke-width="0.75"/>
<line x1="914.4" x2="920.8" y1="284.50" y2="284.50" stroke="#555555" stroke-width="0.75"/>
<line x1="120.9" x2="127.2" y1="338.50" y2="338.50" stroke="#555555" stroke-width="0.75"/>
<line x1="914.4" x2="920.8" y1="338.50" y2="338.50" stroke="#555555" stroke-width="0.75"/>
<line x1="120.9" x2="127.2" y1="391.50" y2="391.50" stroke="#555555" stroke-width="0.75"/>
<line x1="914.4" x2="920.8" y1="391.50" y2="391.50" stroke="#555555" stroke-width="0.75"/>
<line x1="120.9" x2="127.2" y1="444.50" y2="444.50" stroke="#555555" stroke-width="0.75"/>
<line x1="914.4" x2="920.8" y1="444.50" y2="444.50" stroke="#555555" stroke-width="0.75"/>
<line x1="120.9" x2="127.2" y1="497.50" y2="497.50" stroke="#555555" stroke-width="0.75"/>
<line x1="914.4" x2="920.8" y1="497.50" y2="497.50" stroke="#555555" stroke-width="0.75"/>
<line x1="120.9" x2="127.2" y1="551.50" y2="551.50" stroke="#555555" stroke-width="0.75"/>
<line x1="914.4" x2="920.8" y1="551.50" y2="551.50" stroke="#555555" stroke-width="0.75"/>
<line x1="127.50" x2="127.50" y1="65.3" y2="72" stroke="#555555" stroke-width="0.75"/>
<line x1="127.50" x2="127.50" y1="551.5" y2="557.8" stroke="#555555" stroke-width="0.75"/>
<line x1="284.50" x2="284.50" y1="65.3" y2="72" stroke="#555555" stroke-width="0.75"/>
<line x1="284.50" x2="284.50" y1="551.5" y2="557.8" stroke="#555555" stroke-width="0.75"/>
<line x1="442.50" x2="442.50" y1="65.3" y2="72" stroke="#555555" stroke-width="0.75"/>
<line x1="442.50" x2="442.50" y1="551.5" y2="557.8" stroke="#555555" stroke-width="0.75"/>
<line x1="599.50" x2="599.50" y1="65.3" y2="72" stroke="#555555" stroke-width="0.75"/>
<line x1="599.50" x2="599.50" y1="551.5" y2="557.8" stroke="#555555" stroke-width="0.75"/>
<line x1="756.50" x2="756.50" y1="65.3" y2="72" stroke="#555555" stroke-width="0.75"/>
<line x1="756.50" x2="756.50" y1="551.5" y2="557.8" stroke="#555555" stroke-width="0.75"/>
<line x1="914.50" x2="914.50" y1="65.3" y2="72" stroke="#555555" stroke-width="0.75"/>
<line x1="914.50" x2="914.50" y1="551.5" y2="557.8" stroke="#555555" stroke-width="0.75"/>
<g font-family="'DejaVu Sans', 'Liberation Sans', sans-serif" font-size="18" fill="#555555">
<text x="117.6" y="75.9" text-anchor="end">1.561</text>
<text x="116.6" y="129.9" text-anchor="end">1.560</text>
<text x="116.6" y="182.9" text-anchor="end">1.559</text>
<text x="116.6" y="235.9" text-anchor="end">1.558</text>
<text x="116.6" y="288.9" text-anchor="end">1.557</text>
<text x="116.6" y="342.9" text-anchor="end">1.556</text>
<text x="116.6" y="395.9" text-anchor="end">1.555</text>
<text x="116.6" y="448.9" text-anchor="end">1.554</text>
<text x="116.6" y="501.9" text-anchor="end">1.553</text>
<text x="116.6" y="555.9" text-anchor="end">1.552</text>
<text transform="translate(125.5,634.0) rotate(-45)" text-anchor="middle" y="6.3">2013-05-01 00:00:00</text>
<text transform="translate(282.5,634.0) rotate(-45)" text-anchor="middle" y="6.3">2013-05-01 04:48:00</text>
<text transform="translate(440.5,634.0) rotate(-45)" text-anchor="middle" y="6.3">2013-05-01 09:36:00</text>
<text transform="translate(597.5,634.0) rotate(-45)" text-anchor="middle" y="6.3">2013-05-01 14:24:00</text>
<text transform="translate(754.5,634.0) rotate(-45)" text-anchor="middle" y="6.3">2013-05-01 19:12:00</text>
<text transform="translate(912.5,634.0) rotate(-45)" text-anchor="middle" y="6.3">2013-05-02 00:00:00</text>
</g>
</svg>
</body></html>
